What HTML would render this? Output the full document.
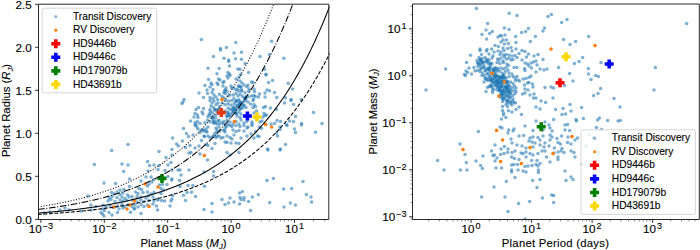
<!DOCTYPE html><html><head><meta charset="utf-8"><style>html,body{margin:0;padding:0;background:#fff;}svg{display:block;}</style></head><body><svg width="700" height="250" viewBox="0 0 700 250" font-family='"Liberation Sans", sans-serif'><style>text{stroke:#000;stroke-width:0.12px;paint-order:stroke;}</style>
<rect width="700" height="250" fill="#fff"/>
<defs><clipPath id="cl"><rect x="38.5" y="4.5" width="291" height="215"/></clipPath><clipPath id="cr"><rect x="412.5" y="4.5" width="287" height="215"/></clipPath></defs>
<g clip-path="url(#cl)">
<circle cx="201.4" cy="39.6" r="1.75" fill="#1f77b4" fill-opacity="0.58"/>
<circle cx="220.4" cy="48.4" r="1.75" fill="#1f77b4" fill-opacity="0.58"/>
<circle cx="226.4" cy="47.6" r="1.75" fill="#1f77b4" fill-opacity="0.58"/>
<circle cx="235.8" cy="42.6" r="1.75" fill="#1f77b4" fill-opacity="0.58"/>
<circle cx="271.6" cy="41.2" r="1.75" fill="#1f77b4" fill-opacity="0.58"/>
<circle cx="189.0" cy="153.0" r="1.75" fill="#1f77b4" fill-opacity="0.58"/>
<circle cx="191.0" cy="152.4" r="1.75" fill="#1f77b4" fill-opacity="0.58"/>
<circle cx="200.0" cy="154.0" r="1.75" fill="#1f77b4" fill-opacity="0.58"/>
<circle cx="207.6" cy="160.0" r="1.75" fill="#1f77b4" fill-opacity="0.58"/>
<circle cx="227.0" cy="152.4" r="1.75" fill="#1f77b4" fill-opacity="0.58"/>
<circle cx="230.0" cy="155.0" r="1.75" fill="#1f77b4" fill-opacity="0.58"/>
<circle cx="239.0" cy="152.4" r="1.75" fill="#1f77b4" fill-opacity="0.58"/>
<circle cx="268.0" cy="150.0" r="1.75" fill="#1f77b4" fill-opacity="0.58"/>
<circle cx="280.0" cy="150.0" r="1.75" fill="#1f77b4" fill-opacity="0.58"/>
<circle cx="189.0" cy="170.0" r="1.75" fill="#1f77b4" fill-opacity="0.58"/>
<circle cx="180.0" cy="170.0" r="1.75" fill="#1f77b4" fill-opacity="0.58"/>
<circle cx="181.0" cy="175.0" r="1.75" fill="#1f77b4" fill-opacity="0.58"/>
<circle cx="204.0" cy="172.0" r="1.75" fill="#1f77b4" fill-opacity="0.58"/>
<circle cx="213.6" cy="171.6" r="1.75" fill="#1f77b4" fill-opacity="0.58"/>
<circle cx="213.6" cy="176.0" r="1.75" fill="#1f77b4" fill-opacity="0.58"/>
<circle cx="267.0" cy="180.4" r="1.75" fill="#1f77b4" fill-opacity="0.58"/>
<circle cx="273.4" cy="178.6" r="1.75" fill="#1f77b4" fill-opacity="0.58"/>
<circle cx="303.0" cy="181.6" r="1.75" fill="#1f77b4" fill-opacity="0.58"/>
<circle cx="283.6" cy="189.0" r="1.75" fill="#1f77b4" fill-opacity="0.58"/>
<circle cx="291.6" cy="188.4" r="1.75" fill="#1f77b4" fill-opacity="0.58"/>
<circle cx="239.6" cy="193.0" r="1.75" fill="#1f77b4" fill-opacity="0.58"/>
<circle cx="242.4" cy="191.4" r="1.75" fill="#1f77b4" fill-opacity="0.58"/>
<circle cx="258.4" cy="194.4" r="1.75" fill="#1f77b4" fill-opacity="0.58"/>
<circle cx="306.4" cy="194.4" r="1.75" fill="#1f77b4" fill-opacity="0.58"/>
<circle cx="311.0" cy="197.0" r="1.75" fill="#1f77b4" fill-opacity="0.58"/>
<circle cx="240.0" cy="197.6" r="1.75" fill="#1f77b4" fill-opacity="0.58"/>
<circle cx="244.0" cy="197.6" r="1.75" fill="#1f77b4" fill-opacity="0.58"/>
<circle cx="252.4" cy="197.0" r="1.75" fill="#1f77b4" fill-opacity="0.58"/>
<circle cx="230.0" cy="198.0" r="1.75" fill="#1f77b4" fill-opacity="0.58"/>
<circle cx="241.0" cy="199.6" r="1.75" fill="#1f77b4" fill-opacity="0.58"/>
<circle cx="225.0" cy="204.4" r="1.75" fill="#1f77b4" fill-opacity="0.58"/>
<circle cx="228.6" cy="203.0" r="1.75" fill="#1f77b4" fill-opacity="0.58"/>
<circle cx="234.0" cy="202.0" r="1.75" fill="#1f77b4" fill-opacity="0.58"/>
<circle cx="239.6" cy="204.0" r="1.75" fill="#1f77b4" fill-opacity="0.58"/>
<circle cx="244.0" cy="200.0" r="1.75" fill="#1f77b4" fill-opacity="0.58"/>
<circle cx="248.6" cy="201.4" r="1.75" fill="#1f77b4" fill-opacity="0.58"/>
<circle cx="269.6" cy="202.4" r="1.75" fill="#1f77b4" fill-opacity="0.58"/>
<circle cx="290.4" cy="203.0" r="1.75" fill="#1f77b4" fill-opacity="0.58"/>
<circle cx="295.4" cy="205.0" r="1.75" fill="#1f77b4" fill-opacity="0.58"/>
<circle cx="311.6" cy="202.0" r="1.75" fill="#1f77b4" fill-opacity="0.58"/>
<circle cx="204.0" cy="209.6" r="1.75" fill="#1f77b4" fill-opacity="0.58"/>
<circle cx="212.0" cy="212.0" r="1.75" fill="#1f77b4" fill-opacity="0.58"/>
<circle cx="250.6" cy="210.6" r="1.75" fill="#1f77b4" fill-opacity="0.58"/>
<circle cx="284.0" cy="207.0" r="1.75" fill="#1f77b4" fill-opacity="0.58"/>
<circle cx="111.6" cy="150.4" r="1.75" fill="#1f77b4" fill-opacity="0.58"/>
<circle cx="159.0" cy="151.6" r="1.75" fill="#1f77b4" fill-opacity="0.58"/>
<circle cx="166.0" cy="157.6" r="1.75" fill="#1f77b4" fill-opacity="0.58"/>
<circle cx="172.0" cy="155.0" r="1.75" fill="#1f77b4" fill-opacity="0.58"/>
<circle cx="94.4" cy="164.4" r="1.75" fill="#1f77b4" fill-opacity="0.58"/>
<circle cx="122.0" cy="164.0" r="1.75" fill="#1f77b4" fill-opacity="0.58"/>
<circle cx="128.0" cy="165.0" r="1.75" fill="#1f77b4" fill-opacity="0.58"/>
<circle cx="147.6" cy="161.6" r="1.75" fill="#1f77b4" fill-opacity="0.58"/>
<circle cx="149.6" cy="165.6" r="1.75" fill="#1f77b4" fill-opacity="0.58"/>
<circle cx="154.0" cy="165.0" r="1.75" fill="#1f77b4" fill-opacity="0.58"/>
<circle cx="159.0" cy="165.6" r="1.75" fill="#1f77b4" fill-opacity="0.58"/>
<circle cx="168.0" cy="165.0" r="1.75" fill="#1f77b4" fill-opacity="0.58"/>
<circle cx="171.0" cy="162.4" r="1.75" fill="#1f77b4" fill-opacity="0.58"/>
<circle cx="123.6" cy="171.6" r="1.75" fill="#1f77b4" fill-opacity="0.58"/>
<circle cx="148.0" cy="171.0" r="1.75" fill="#1f77b4" fill-opacity="0.58"/>
<circle cx="158.0" cy="169.6" r="1.75" fill="#1f77b4" fill-opacity="0.58"/>
<circle cx="165.0" cy="170.4" r="1.75" fill="#1f77b4" fill-opacity="0.58"/>
<circle cx="172.0" cy="170.0" r="1.75" fill="#1f77b4" fill-opacity="0.58"/>
<circle cx="178.0" cy="170.0" r="1.75" fill="#1f77b4" fill-opacity="0.58"/>
<circle cx="104.0" cy="183.0" r="1.75" fill="#1f77b4" fill-opacity="0.58"/>
<circle cx="115.6" cy="183.6" r="1.75" fill="#1f77b4" fill-opacity="0.58"/>
<circle cx="129.6" cy="179.0" r="1.75" fill="#1f77b4" fill-opacity="0.58"/>
<circle cx="141.0" cy="181.0" r="1.75" fill="#1f77b4" fill-opacity="0.58"/>
<circle cx="146.0" cy="177.0" r="1.75" fill="#1f77b4" fill-opacity="0.58"/>
<circle cx="151.0" cy="177.0" r="1.75" fill="#1f77b4" fill-opacity="0.58"/>
<circle cx="154.0" cy="179.6" r="1.75" fill="#1f77b4" fill-opacity="0.58"/>
<circle cx="168.0" cy="176.4" r="1.75" fill="#1f77b4" fill-opacity="0.58"/>
<circle cx="172.0" cy="179.0" r="1.75" fill="#1f77b4" fill-opacity="0.58"/>
<circle cx="152.0" cy="182.0" r="1.75" fill="#1f77b4" fill-opacity="0.58"/>
<circle cx="149.0" cy="184.0" r="1.75" fill="#1f77b4" fill-opacity="0.58"/>
<circle cx="170.0" cy="206.0" r="1.75" fill="#1f77b4" fill-opacity="0.58"/>
<circle cx="60.0" cy="210.0" r="1.75" fill="#1f77b4" fill-opacity="0.58"/>
<circle cx="65.0" cy="208.0" r="1.75" fill="#1f77b4" fill-opacity="0.58"/>
<circle cx="69.0" cy="210.0" r="1.75" fill="#1f77b4" fill-opacity="0.58"/>
<circle cx="81.0" cy="211.0" r="1.75" fill="#1f77b4" fill-opacity="0.58"/>
<circle cx="88.0" cy="196.0" r="1.75" fill="#1f77b4" fill-opacity="0.58"/>
<circle cx="44.0" cy="213.0" r="1.75" fill="#1f77b4" fill-opacity="0.58"/>
<circle cx="50.0" cy="212.0" r="1.75" fill="#1f77b4" fill-opacity="0.58"/>
<circle cx="172.6" cy="138.0" r="1.75" fill="#1f77b4" fill-opacity="0.58"/>
<circle cx="176.6" cy="144.0" r="1.75" fill="#1f77b4" fill-opacity="0.58"/>
<circle cx="178.4" cy="146.0" r="1.75" fill="#1f77b4" fill-opacity="0.58"/>
<circle cx="128.0" cy="144.4" r="1.75" fill="#1f77b4" fill-opacity="0.58"/>
<circle cx="172.0" cy="149.6" r="1.75" fill="#1f77b4" fill-opacity="0.58"/>
<circle cx="322.0" cy="123.6" r="1.75" fill="#1f77b4" fill-opacity="0.58"/>
<circle cx="183.0" cy="102.0" r="1.75" fill="#1f77b4" fill-opacity="0.58"/>
<circle cx="182.0" cy="103.5" r="1.75" fill="#1f77b4" fill-opacity="0.58"/>
<circle cx="210.0" cy="100.5" r="1.75" fill="#1f77b4" fill-opacity="0.58"/>
<circle cx="214.0" cy="101.0" r="1.75" fill="#1f77b4" fill-opacity="0.58"/>
<circle cx="212.0" cy="103.0" r="1.75" fill="#1f77b4" fill-opacity="0.58"/>
<circle cx="216.0" cy="104.5" r="1.75" fill="#1f77b4" fill-opacity="0.58"/>
<circle cx="218.0" cy="103.0" r="1.75" fill="#1f77b4" fill-opacity="0.58"/>
<circle cx="226.0" cy="100.5" r="1.75" fill="#1f77b4" fill-opacity="0.58"/>
<circle cx="229.0" cy="101.0" r="1.75" fill="#1f77b4" fill-opacity="0.58"/>
<circle cx="232.0" cy="100.5" r="1.75" fill="#1f77b4" fill-opacity="0.58"/>
<circle cx="235.5" cy="102.0" r="1.75" fill="#1f77b4" fill-opacity="0.58"/>
<circle cx="239.0" cy="101.0" r="1.75" fill="#1f77b4" fill-opacity="0.58"/>
<circle cx="242.0" cy="102.5" r="1.75" fill="#1f77b4" fill-opacity="0.58"/>
<circle cx="245.0" cy="101.0" r="1.75" fill="#1f77b4" fill-opacity="0.58"/>
<circle cx="248.0" cy="102.0" r="1.75" fill="#1f77b4" fill-opacity="0.58"/>
<circle cx="222.0" cy="103.0" r="1.75" fill="#1f77b4" fill-opacity="0.58"/>
<circle cx="225.0" cy="104.5" r="1.75" fill="#1f77b4" fill-opacity="0.58"/>
<circle cx="228.0" cy="104.0" r="1.75" fill="#1f77b4" fill-opacity="0.58"/>
<circle cx="231.0" cy="105.0" r="1.75" fill="#1f77b4" fill-opacity="0.58"/>
<circle cx="234.0" cy="104.0" r="1.75" fill="#1f77b4" fill-opacity="0.58"/>
<circle cx="237.0" cy="105.5" r="1.75" fill="#1f77b4" fill-opacity="0.58"/>
<circle cx="240.0" cy="104.0" r="1.75" fill="#1f77b4" fill-opacity="0.58"/>
<circle cx="244.0" cy="105.0" r="1.75" fill="#1f77b4" fill-opacity="0.58"/>
<circle cx="211.0" cy="106.0" r="1.75" fill="#1f77b4" fill-opacity="0.58"/>
<circle cx="213.5" cy="107.5" r="1.75" fill="#1f77b4" fill-opacity="0.58"/>
<circle cx="210.0" cy="109.5" r="1.75" fill="#1f77b4" fill-opacity="0.58"/>
<circle cx="214.5" cy="110.0" r="1.75" fill="#1f77b4" fill-opacity="0.58"/>
<circle cx="198.5" cy="107.5" r="1.75" fill="#1f77b4" fill-opacity="0.58"/>
<circle cx="196.0" cy="109.5" r="1.75" fill="#1f77b4" fill-opacity="0.58"/>
<circle cx="203.5" cy="108.5" r="1.75" fill="#1f77b4" fill-opacity="0.58"/>
<circle cx="228.0" cy="108.0" r="1.75" fill="#1f77b4" fill-opacity="0.58"/>
<circle cx="230.0" cy="109.5" r="1.75" fill="#1f77b4" fill-opacity="0.58"/>
<circle cx="233.0" cy="107.5" r="1.75" fill="#1f77b4" fill-opacity="0.58"/>
<circle cx="235.5" cy="109.0" r="1.75" fill="#1f77b4" fill-opacity="0.58"/>
<circle cx="238.0" cy="107.0" r="1.75" fill="#1f77b4" fill-opacity="0.58"/>
<circle cx="240.0" cy="109.5" r="1.75" fill="#1f77b4" fill-opacity="0.58"/>
<circle cx="242.5" cy="108.0" r="1.75" fill="#1f77b4" fill-opacity="0.58"/>
<circle cx="246.0" cy="107.5" r="1.75" fill="#1f77b4" fill-opacity="0.58"/>
<circle cx="202.0" cy="112.0" r="1.75" fill="#1f77b4" fill-opacity="0.58"/>
<circle cx="203.0" cy="114.0" r="1.75" fill="#1f77b4" fill-opacity="0.58"/>
<circle cx="195.0" cy="113.5" r="1.75" fill="#1f77b4" fill-opacity="0.58"/>
<circle cx="197.5" cy="115.0" r="1.75" fill="#1f77b4" fill-opacity="0.58"/>
<circle cx="194.0" cy="117.0" r="1.75" fill="#1f77b4" fill-opacity="0.58"/>
<circle cx="198.0" cy="117.5" r="1.75" fill="#1f77b4" fill-opacity="0.58"/>
<circle cx="210.0" cy="115.0" r="1.75" fill="#1f77b4" fill-opacity="0.58"/>
<circle cx="213.0" cy="116.5" r="1.75" fill="#1f77b4" fill-opacity="0.58"/>
<circle cx="216.0" cy="115.0" r="1.75" fill="#1f77b4" fill-opacity="0.58"/>
<circle cx="215.5" cy="118.0" r="1.75" fill="#1f77b4" fill-opacity="0.58"/>
<circle cx="228.0" cy="112.5" r="1.75" fill="#1f77b4" fill-opacity="0.58"/>
<circle cx="231.0" cy="114.0" r="1.75" fill="#1f77b4" fill-opacity="0.58"/>
<circle cx="227.0" cy="116.0" r="1.75" fill="#1f77b4" fill-opacity="0.58"/>
<circle cx="233.0" cy="111.5" r="1.75" fill="#1f77b4" fill-opacity="0.58"/>
<circle cx="236.0" cy="113.0" r="1.75" fill="#1f77b4" fill-opacity="0.58"/>
<circle cx="239.0" cy="112.0" r="1.75" fill="#1f77b4" fill-opacity="0.58"/>
<circle cx="241.0" cy="114.0" r="1.75" fill="#1f77b4" fill-opacity="0.58"/>
<circle cx="230.0" cy="117.0" r="1.75" fill="#1f77b4" fill-opacity="0.58"/>
<circle cx="237.0" cy="116.0" r="1.75" fill="#1f77b4" fill-opacity="0.58"/>
<circle cx="240.0" cy="117.5" r="1.75" fill="#1f77b4" fill-opacity="0.58"/>
<circle cx="190.5" cy="121.0" r="1.75" fill="#1f77b4" fill-opacity="0.58"/>
<circle cx="195.0" cy="122.5" r="1.75" fill="#1f77b4" fill-opacity="0.58"/>
<circle cx="197.5" cy="121.5" r="1.75" fill="#1f77b4" fill-opacity="0.58"/>
<circle cx="196.0" cy="124.5" r="1.75" fill="#1f77b4" fill-opacity="0.58"/>
<circle cx="200.0" cy="123.5" r="1.75" fill="#1f77b4" fill-opacity="0.58"/>
<circle cx="207.5" cy="120.0" r="1.75" fill="#1f77b4" fill-opacity="0.58"/>
<circle cx="210.0" cy="122.0" r="1.75" fill="#1f77b4" fill-opacity="0.58"/>
<circle cx="213.0" cy="120.0" r="1.75" fill="#1f77b4" fill-opacity="0.58"/>
<circle cx="215.5" cy="123.0" r="1.75" fill="#1f77b4" fill-opacity="0.58"/>
<circle cx="218.0" cy="121.0" r="1.75" fill="#1f77b4" fill-opacity="0.58"/>
<circle cx="219.5" cy="124.0" r="1.75" fill="#1f77b4" fill-opacity="0.58"/>
<circle cx="224.0" cy="121.5" r="1.75" fill="#1f77b4" fill-opacity="0.58"/>
<circle cx="227.0" cy="120.0" r="1.75" fill="#1f77b4" fill-opacity="0.58"/>
<circle cx="230.0" cy="122.0" r="1.75" fill="#1f77b4" fill-opacity="0.58"/>
<circle cx="228.0" cy="124.5" r="1.75" fill="#1f77b4" fill-opacity="0.58"/>
<circle cx="233.0" cy="124.0" r="1.75" fill="#1f77b4" fill-opacity="0.58"/>
<circle cx="236.0" cy="121.5" r="1.75" fill="#1f77b4" fill-opacity="0.58"/>
<circle cx="239.0" cy="124.0" r="1.75" fill="#1f77b4" fill-opacity="0.58"/>
<circle cx="241.0" cy="120.0" r="1.75" fill="#1f77b4" fill-opacity="0.58"/>
<circle cx="244.0" cy="123.0" r="1.75" fill="#1f77b4" fill-opacity="0.58"/>
<circle cx="247.0" cy="121.5" r="1.75" fill="#1f77b4" fill-opacity="0.58"/>
<circle cx="244.0" cy="106.0" r="1.75" fill="#1f77b4" fill-opacity="0.58"/>
<circle cx="183.5" cy="128.5" r="1.75" fill="#1f77b4" fill-opacity="0.58"/>
<circle cx="186.5" cy="133.5" r="1.75" fill="#1f77b4" fill-opacity="0.58"/>
<circle cx="188.5" cy="136.5" r="1.75" fill="#1f77b4" fill-opacity="0.58"/>
<circle cx="182.5" cy="141.0" r="1.75" fill="#1f77b4" fill-opacity="0.58"/>
<circle cx="185.5" cy="147.5" r="1.75" fill="#1f77b4" fill-opacity="0.58"/>
<circle cx="190.0" cy="145.5" r="1.75" fill="#1f77b4" fill-opacity="0.58"/>
<circle cx="193.0" cy="135.0" r="1.75" fill="#1f77b4" fill-opacity="0.58"/>
<circle cx="195.0" cy="125.5" r="1.75" fill="#1f77b4" fill-opacity="0.58"/>
<circle cx="197.0" cy="127.0" r="1.75" fill="#1f77b4" fill-opacity="0.58"/>
<circle cx="198.0" cy="129.0" r="1.75" fill="#1f77b4" fill-opacity="0.58"/>
<circle cx="200.0" cy="132.5" r="1.75" fill="#1f77b4" fill-opacity="0.58"/>
<circle cx="201.5" cy="140.5" r="1.75" fill="#1f77b4" fill-opacity="0.58"/>
<circle cx="199.0" cy="146.0" r="1.75" fill="#1f77b4" fill-opacity="0.58"/>
<circle cx="195.0" cy="148.0" r="1.75" fill="#1f77b4" fill-opacity="0.58"/>
<circle cx="203.5" cy="130.0" r="1.75" fill="#1f77b4" fill-opacity="0.58"/>
<circle cx="206.0" cy="129.0" r="1.75" fill="#1f77b4" fill-opacity="0.58"/>
<circle cx="208.0" cy="127.0" r="1.75" fill="#1f77b4" fill-opacity="0.58"/>
<circle cx="207.0" cy="132.0" r="1.75" fill="#1f77b4" fill-opacity="0.58"/>
<circle cx="208.0" cy="136.0" r="1.75" fill="#1f77b4" fill-opacity="0.58"/>
<circle cx="210.0" cy="137.5" r="1.75" fill="#1f77b4" fill-opacity="0.58"/>
<circle cx="213.0" cy="136.5" r="1.75" fill="#1f77b4" fill-opacity="0.58"/>
<circle cx="214.5" cy="133.5" r="1.75" fill="#1f77b4" fill-opacity="0.58"/>
<circle cx="216.0" cy="128.0" r="1.75" fill="#1f77b4" fill-opacity="0.58"/>
<circle cx="217.0" cy="130.0" r="1.75" fill="#1f77b4" fill-opacity="0.58"/>
<circle cx="219.0" cy="127.0" r="1.75" fill="#1f77b4" fill-opacity="0.58"/>
<circle cx="220.0" cy="131.0" r="1.75" fill="#1f77b4" fill-opacity="0.58"/>
<circle cx="216.0" cy="137.5" r="1.75" fill="#1f77b4" fill-opacity="0.58"/>
<circle cx="219.0" cy="136.0" r="1.75" fill="#1f77b4" fill-opacity="0.58"/>
<circle cx="221.0" cy="138.0" r="1.75" fill="#1f77b4" fill-opacity="0.58"/>
<circle cx="223.0" cy="137.5" r="1.75" fill="#1f77b4" fill-opacity="0.58"/>
<circle cx="208.0" cy="145.5" r="1.75" fill="#1f77b4" fill-opacity="0.58"/>
<circle cx="206.0" cy="144.5" r="1.75" fill="#1f77b4" fill-opacity="0.58"/>
<circle cx="215.0" cy="143.5" r="1.75" fill="#1f77b4" fill-opacity="0.58"/>
<circle cx="212.0" cy="148.5" r="1.75" fill="#1f77b4" fill-opacity="0.58"/>
<circle cx="226.0" cy="126.0" r="1.75" fill="#1f77b4" fill-opacity="0.58"/>
<circle cx="230.0" cy="125.5" r="1.75" fill="#1f77b4" fill-opacity="0.58"/>
<circle cx="232.0" cy="126.5" r="1.75" fill="#1f77b4" fill-opacity="0.58"/>
<circle cx="236.0" cy="125.5" r="1.75" fill="#1f77b4" fill-opacity="0.58"/>
<circle cx="240.0" cy="126.5" r="1.75" fill="#1f77b4" fill-opacity="0.58"/>
<circle cx="244.0" cy="125.5" r="1.75" fill="#1f77b4" fill-opacity="0.58"/>
<circle cx="248.0" cy="127.0" r="1.75" fill="#1f77b4" fill-opacity="0.58"/>
<circle cx="225.0" cy="132.0" r="1.75" fill="#1f77b4" fill-opacity="0.58"/>
<circle cx="233.0" cy="130.0" r="1.75" fill="#1f77b4" fill-opacity="0.58"/>
<circle cx="236.0" cy="131.5" r="1.75" fill="#1f77b4" fill-opacity="0.58"/>
<circle cx="239.0" cy="130.5" r="1.75" fill="#1f77b4" fill-opacity="0.58"/>
<circle cx="244.0" cy="131.0" r="1.75" fill="#1f77b4" fill-opacity="0.58"/>
<circle cx="247.0" cy="128.0" r="1.75" fill="#1f77b4" fill-opacity="0.58"/>
<circle cx="227.0" cy="136.0" r="1.75" fill="#1f77b4" fill-opacity="0.58"/>
<circle cx="230.0" cy="137.5" r="1.75" fill="#1f77b4" fill-opacity="0.58"/>
<circle cx="232.0" cy="139.0" r="1.75" fill="#1f77b4" fill-opacity="0.58"/>
<circle cx="234.0" cy="135.0" r="1.75" fill="#1f77b4" fill-opacity="0.58"/>
<circle cx="241.0" cy="138.0" r="1.75" fill="#1f77b4" fill-opacity="0.58"/>
<circle cx="247.0" cy="136.0" r="1.75" fill="#1f77b4" fill-opacity="0.58"/>
<circle cx="225.0" cy="142.0" r="1.75" fill="#1f77b4" fill-opacity="0.58"/>
<circle cx="227.0" cy="142.5" r="1.75" fill="#1f77b4" fill-opacity="0.58"/>
<circle cx="231.0" cy="143.0" r="1.75" fill="#1f77b4" fill-opacity="0.58"/>
<circle cx="236.0" cy="143.0" r="1.75" fill="#1f77b4" fill-opacity="0.58"/>
<circle cx="239.0" cy="143.5" r="1.75" fill="#1f77b4" fill-opacity="0.58"/>
<circle cx="208.5" cy="79.5" r="1.75" fill="#1f77b4" fill-opacity="0.58"/>
<circle cx="205.0" cy="85.5" r="1.75" fill="#1f77b4" fill-opacity="0.58"/>
<circle cx="199.0" cy="93.0" r="1.75" fill="#1f77b4" fill-opacity="0.58"/>
<circle cx="203.5" cy="97.5" r="1.75" fill="#1f77b4" fill-opacity="0.58"/>
<circle cx="184.0" cy="99.5" r="1.75" fill="#1f77b4" fill-opacity="0.58"/>
<circle cx="211.0" cy="83.0" r="1.75" fill="#1f77b4" fill-opacity="0.58"/>
<circle cx="212.0" cy="84.5" r="1.75" fill="#1f77b4" fill-opacity="0.58"/>
<circle cx="210.0" cy="87.0" r="1.75" fill="#1f77b4" fill-opacity="0.58"/>
<circle cx="213.0" cy="89.5" r="1.75" fill="#1f77b4" fill-opacity="0.58"/>
<circle cx="207.0" cy="90.0" r="1.75" fill="#1f77b4" fill-opacity="0.58"/>
<circle cx="207.5" cy="93.5" r="1.75" fill="#1f77b4" fill-opacity="0.58"/>
<circle cx="212.0" cy="92.5" r="1.75" fill="#1f77b4" fill-opacity="0.58"/>
<circle cx="214.0" cy="95.0" r="1.75" fill="#1f77b4" fill-opacity="0.58"/>
<circle cx="210.0" cy="97.5" r="1.75" fill="#1f77b4" fill-opacity="0.58"/>
<circle cx="213.0" cy="98.5" r="1.75" fill="#1f77b4" fill-opacity="0.58"/>
<circle cx="216.0" cy="97.0" r="1.75" fill="#1f77b4" fill-opacity="0.58"/>
<circle cx="217.0" cy="83.0" r="1.75" fill="#1f77b4" fill-opacity="0.58"/>
<circle cx="218.5" cy="79.0" r="1.75" fill="#1f77b4" fill-opacity="0.58"/>
<circle cx="220.0" cy="80.0" r="1.75" fill="#1f77b4" fill-opacity="0.58"/>
<circle cx="218.0" cy="84.5" r="1.75" fill="#1f77b4" fill-opacity="0.58"/>
<circle cx="223.0" cy="86.0" r="1.75" fill="#1f77b4" fill-opacity="0.58"/>
<circle cx="224.0" cy="81.5" r="1.75" fill="#1f77b4" fill-opacity="0.58"/>
<circle cx="223.0" cy="82.5" r="1.75" fill="#1f77b4" fill-opacity="0.58"/>
<circle cx="226.0" cy="88.0" r="1.75" fill="#1f77b4" fill-opacity="0.58"/>
<circle cx="225.5" cy="90.0" r="1.75" fill="#1f77b4" fill-opacity="0.58"/>
<circle cx="227.0" cy="91.5" r="1.75" fill="#1f77b4" fill-opacity="0.58"/>
<circle cx="225.0" cy="93.5" r="1.75" fill="#1f77b4" fill-opacity="0.58"/>
<circle cx="222.0" cy="96.5" r="1.75" fill="#1f77b4" fill-opacity="0.58"/>
<circle cx="224.0" cy="98.0" r="1.75" fill="#1f77b4" fill-opacity="0.58"/>
<circle cx="227.0" cy="76.0" r="1.75" fill="#1f77b4" fill-opacity="0.58"/>
<circle cx="230.0" cy="75.5" r="1.75" fill="#1f77b4" fill-opacity="0.58"/>
<circle cx="228.0" cy="78.0" r="1.75" fill="#1f77b4" fill-opacity="0.58"/>
<circle cx="231.0" cy="86.0" r="1.75" fill="#1f77b4" fill-opacity="0.58"/>
<circle cx="234.0" cy="88.0" r="1.75" fill="#1f77b4" fill-opacity="0.58"/>
<circle cx="230.0" cy="95.0" r="1.75" fill="#1f77b4" fill-opacity="0.58"/>
<circle cx="228.0" cy="96.0" r="1.75" fill="#1f77b4" fill-opacity="0.58"/>
<circle cx="236.0" cy="79.0" r="1.75" fill="#1f77b4" fill-opacity="0.58"/>
<circle cx="239.0" cy="77.0" r="1.75" fill="#1f77b4" fill-opacity="0.58"/>
<circle cx="240.0" cy="81.0" r="1.75" fill="#1f77b4" fill-opacity="0.58"/>
<circle cx="242.0" cy="83.0" r="1.75" fill="#1f77b4" fill-opacity="0.58"/>
<circle cx="244.0" cy="85.0" r="1.75" fill="#1f77b4" fill-opacity="0.58"/>
<circle cx="239.0" cy="86.0" r="1.75" fill="#1f77b4" fill-opacity="0.58"/>
<circle cx="241.0" cy="87.0" r="1.75" fill="#1f77b4" fill-opacity="0.58"/>
<circle cx="236.0" cy="90.0" r="1.75" fill="#1f77b4" fill-opacity="0.58"/>
<circle cx="239.0" cy="91.0" r="1.75" fill="#1f77b4" fill-opacity="0.58"/>
<circle cx="236.0" cy="93.5" r="1.75" fill="#1f77b4" fill-opacity="0.58"/>
<circle cx="238.0" cy="96.0" r="1.75" fill="#1f77b4" fill-opacity="0.58"/>
<circle cx="234.0" cy="98.5" r="1.75" fill="#1f77b4" fill-opacity="0.58"/>
<circle cx="248.0" cy="85.0" r="1.75" fill="#1f77b4" fill-opacity="0.58"/>
<circle cx="249.0" cy="89.0" r="1.75" fill="#1f77b4" fill-opacity="0.58"/>
<circle cx="246.0" cy="97.0" r="1.75" fill="#1f77b4" fill-opacity="0.58"/>
<circle cx="220.5" cy="50.0" r="1.75" fill="#1f77b4" fill-opacity="0.58"/>
<circle cx="234.0" cy="53.0" r="1.75" fill="#1f77b4" fill-opacity="0.58"/>
<circle cx="241.5" cy="52.2" r="1.75" fill="#1f77b4" fill-opacity="0.58"/>
<circle cx="213.5" cy="56.5" r="1.75" fill="#1f77b4" fill-opacity="0.58"/>
<circle cx="224.0" cy="58.2" r="1.75" fill="#1f77b4" fill-opacity="0.58"/>
<circle cx="228.7" cy="60.0" r="1.75" fill="#1f77b4" fill-opacity="0.58"/>
<circle cx="228.7" cy="61.5" r="1.75" fill="#1f77b4" fill-opacity="0.58"/>
<circle cx="235.5" cy="58.8" r="1.75" fill="#1f77b4" fill-opacity="0.58"/>
<circle cx="241.5" cy="59.2" r="1.75" fill="#1f77b4" fill-opacity="0.58"/>
<circle cx="245.0" cy="63.5" r="1.75" fill="#1f77b4" fill-opacity="0.58"/>
<circle cx="229.5" cy="66.0" r="1.75" fill="#1f77b4" fill-opacity="0.58"/>
<circle cx="208.0" cy="68.2" r="1.75" fill="#1f77b4" fill-opacity="0.58"/>
<circle cx="219.2" cy="68.5" r="1.75" fill="#1f77b4" fill-opacity="0.58"/>
<circle cx="237.8" cy="69.0" r="1.75" fill="#1f77b4" fill-opacity="0.58"/>
<circle cx="240.0" cy="69.2" r="1.75" fill="#1f77b4" fill-opacity="0.58"/>
<circle cx="248.5" cy="72.5" r="1.75" fill="#1f77b4" fill-opacity="0.58"/>
<circle cx="217.0" cy="73.8" r="1.75" fill="#1f77b4" fill-opacity="0.58"/>
<circle cx="228.0" cy="72.5" r="1.75" fill="#1f77b4" fill-opacity="0.58"/>
<circle cx="229.5" cy="74.0" r="1.75" fill="#1f77b4" fill-opacity="0.58"/>
<circle cx="240.8" cy="74.2" r="1.75" fill="#1f77b4" fill-opacity="0.58"/>
<circle cx="260.0" cy="56.5" r="1.75" fill="#1f77b4" fill-opacity="0.58"/>
<circle cx="269.5" cy="54.5" r="1.75" fill="#1f77b4" fill-opacity="0.58"/>
<circle cx="283.8" cy="58.2" r="1.75" fill="#1f77b4" fill-opacity="0.58"/>
<circle cx="264.5" cy="69.2" r="1.75" fill="#1f77b4" fill-opacity="0.58"/>
<circle cx="266.0" cy="74.2" r="1.75" fill="#1f77b4" fill-opacity="0.58"/>
<circle cx="266.0" cy="75.0" r="1.75" fill="#1f77b4" fill-opacity="0.58"/>
<circle cx="251.5" cy="82.0" r="1.75" fill="#1f77b4" fill-opacity="0.58"/>
<circle cx="253.0" cy="82.5" r="1.75" fill="#1f77b4" fill-opacity="0.58"/>
<circle cx="268.5" cy="82.5" r="1.75" fill="#1f77b4" fill-opacity="0.58"/>
<circle cx="272.5" cy="80.5" r="1.75" fill="#1f77b4" fill-opacity="0.58"/>
<circle cx="288.2" cy="83.2" r="1.75" fill="#1f77b4" fill-opacity="0.58"/>
<circle cx="254.0" cy="89.0" r="1.75" fill="#1f77b4" fill-opacity="0.58"/>
<circle cx="254.5" cy="91.5" r="1.75" fill="#1f77b4" fill-opacity="0.58"/>
<circle cx="267.0" cy="90.0" r="1.75" fill="#1f77b4" fill-opacity="0.58"/>
<circle cx="269.5" cy="90.8" r="1.75" fill="#1f77b4" fill-opacity="0.58"/>
<circle cx="265.0" cy="93.0" r="1.75" fill="#1f77b4" fill-opacity="0.58"/>
<circle cx="274.5" cy="92.5" r="1.75" fill="#1f77b4" fill-opacity="0.58"/>
<circle cx="292.5" cy="89.0" r="1.75" fill="#1f77b4" fill-opacity="0.58"/>
<circle cx="259.5" cy="94.0" r="1.75" fill="#1f77b4" fill-opacity="0.58"/>
<circle cx="251.5" cy="96.0" r="1.75" fill="#1f77b4" fill-opacity="0.58"/>
<circle cx="254.0" cy="95.5" r="1.75" fill="#1f77b4" fill-opacity="0.58"/>
<circle cx="255.5" cy="96.5" r="1.75" fill="#1f77b4" fill-opacity="0.58"/>
<circle cx="258.5" cy="97.0" r="1.75" fill="#1f77b4" fill-opacity="0.58"/>
<circle cx="253.5" cy="99.0" r="1.75" fill="#1f77b4" fill-opacity="0.58"/>
<circle cx="265.0" cy="97.0" r="1.75" fill="#1f77b4" fill-opacity="0.58"/>
<circle cx="276.8" cy="97.5" r="1.75" fill="#1f77b4" fill-opacity="0.58"/>
<circle cx="285.5" cy="97.8" r="1.75" fill="#1f77b4" fill-opacity="0.58"/>
<circle cx="291.0" cy="99.5" r="1.75" fill="#1f77b4" fill-opacity="0.58"/>
<circle cx="301.2" cy="99.5" r="1.75" fill="#1f77b4" fill-opacity="0.58"/>
<circle cx="253.0" cy="100.5" r="1.75" fill="#1f77b4" fill-opacity="0.58"/>
<circle cx="254.0" cy="104.5" r="1.75" fill="#1f77b4" fill-opacity="0.58"/>
<circle cx="253.0" cy="107.5" r="1.75" fill="#1f77b4" fill-opacity="0.58"/>
<circle cx="255.5" cy="106.5" r="1.75" fill="#1f77b4" fill-opacity="0.58"/>
<circle cx="250.5" cy="104.0" r="1.75" fill="#1f77b4" fill-opacity="0.58"/>
<circle cx="256.5" cy="111.0" r="1.75" fill="#1f77b4" fill-opacity="0.58"/>
<circle cx="254.0" cy="113.0" r="1.75" fill="#1f77b4" fill-opacity="0.58"/>
<circle cx="263.5" cy="107.5" r="1.75" fill="#1f77b4" fill-opacity="0.58"/>
<circle cx="265.5" cy="106.5" r="1.75" fill="#1f77b4" fill-opacity="0.58"/>
<circle cx="270.5" cy="108.0" r="1.75" fill="#1f77b4" fill-opacity="0.58"/>
<circle cx="276.5" cy="109.5" r="1.75" fill="#1f77b4" fill-opacity="0.58"/>
<circle cx="284.5" cy="103.0" r="1.75" fill="#1f77b4" fill-opacity="0.58"/>
<circle cx="291.0" cy="100.5" r="1.75" fill="#1f77b4" fill-opacity="0.58"/>
<circle cx="293.5" cy="104.5" r="1.75" fill="#1f77b4" fill-opacity="0.58"/>
<circle cx="264.0" cy="113.5" r="1.75" fill="#1f77b4" fill-opacity="0.58"/>
<circle cx="265.0" cy="115.5" r="1.75" fill="#1f77b4" fill-opacity="0.58"/>
<circle cx="266.5" cy="115.0" r="1.75" fill="#1f77b4" fill-opacity="0.58"/>
<circle cx="263.0" cy="117.0" r="1.75" fill="#1f77b4" fill-opacity="0.58"/>
<circle cx="262.0" cy="121.0" r="1.75" fill="#1f77b4" fill-opacity="0.58"/>
<circle cx="260.0" cy="122.0" r="1.75" fill="#1f77b4" fill-opacity="0.58"/>
<circle cx="252.0" cy="122.0" r="1.75" fill="#1f77b4" fill-opacity="0.58"/>
<circle cx="252.0" cy="124.0" r="1.75" fill="#1f77b4" fill-opacity="0.58"/>
<circle cx="277.0" cy="120.5" r="1.75" fill="#1f77b4" fill-opacity="0.58"/>
<circle cx="280.5" cy="121.5" r="1.75" fill="#1f77b4" fill-opacity="0.58"/>
<circle cx="271.0" cy="124.0" r="1.75" fill="#1f77b4" fill-opacity="0.58"/>
<circle cx="274.5" cy="123.5" r="1.75" fill="#1f77b4" fill-opacity="0.58"/>
<circle cx="289.5" cy="121.0" r="1.75" fill="#1f77b4" fill-opacity="0.58"/>
<circle cx="293.5" cy="121.5" r="1.75" fill="#1f77b4" fill-opacity="0.58"/>
<circle cx="295.5" cy="116.5" r="1.75" fill="#1f77b4" fill-opacity="0.58"/>
<circle cx="301.5" cy="123.5" r="1.75" fill="#1f77b4" fill-opacity="0.58"/>
<circle cx="313.5" cy="112.5" r="1.75" fill="#1f77b4" fill-opacity="0.58"/>
<circle cx="286.5" cy="124.5" r="1.75" fill="#1f77b4" fill-opacity="0.58"/>
<circle cx="252.0" cy="125.5" r="1.75" fill="#1f77b4" fill-opacity="0.58"/>
<circle cx="259.5" cy="127.0" r="1.75" fill="#1f77b4" fill-opacity="0.58"/>
<circle cx="261.5" cy="128.5" r="1.75" fill="#1f77b4" fill-opacity="0.58"/>
<circle cx="255.5" cy="131.5" r="1.75" fill="#1f77b4" fill-opacity="0.58"/>
<circle cx="257.5" cy="136.0" r="1.75" fill="#1f77b4" fill-opacity="0.58"/>
<circle cx="259.0" cy="136.5" r="1.75" fill="#1f77b4" fill-opacity="0.58"/>
<circle cx="254.0" cy="138.0" r="1.75" fill="#1f77b4" fill-opacity="0.58"/>
<circle cx="251.0" cy="134.0" r="1.75" fill="#1f77b4" fill-opacity="0.58"/>
<circle cx="280.0" cy="127.0" r="1.75" fill="#1f77b4" fill-opacity="0.58"/>
<circle cx="280.0" cy="129.5" r="1.75" fill="#1f77b4" fill-opacity="0.58"/>
<circle cx="276.5" cy="133.0" r="1.75" fill="#1f77b4" fill-opacity="0.58"/>
<circle cx="277.5" cy="136.0" r="1.75" fill="#1f77b4" fill-opacity="0.58"/>
<circle cx="287.0" cy="125.5" r="1.75" fill="#1f77b4" fill-opacity="0.58"/>
<circle cx="294.5" cy="129.0" r="1.75" fill="#1f77b4" fill-opacity="0.58"/>
<circle cx="295.5" cy="132.5" r="1.75" fill="#1f77b4" fill-opacity="0.58"/>
<circle cx="315.5" cy="132.2" r="1.75" fill="#1f77b4" fill-opacity="0.58"/>
<circle cx="301.5" cy="125.0" r="1.75" fill="#1f77b4" fill-opacity="0.58"/>
<circle cx="285.5" cy="144.5" r="1.75" fill="#1f77b4" fill-opacity="0.58"/>
<circle cx="267.5" cy="149.0" r="1.75" fill="#1f77b4" fill-opacity="0.58"/>
<circle cx="280.5" cy="149.0" r="1.75" fill="#1f77b4" fill-opacity="0.58"/>
<circle cx="129.5" cy="186.5" r="1.75" fill="#1f77b4" fill-opacity="0.58"/>
<circle cx="147.5" cy="186.0" r="1.75" fill="#1f77b4" fill-opacity="0.58"/>
<circle cx="139.0" cy="188.5" r="1.75" fill="#1f77b4" fill-opacity="0.58"/>
<circle cx="141.5" cy="189.5" r="1.75" fill="#1f77b4" fill-opacity="0.58"/>
<circle cx="120.0" cy="190.0" r="1.75" fill="#1f77b4" fill-opacity="0.58"/>
<circle cx="124.0" cy="189.5" r="1.75" fill="#1f77b4" fill-opacity="0.58"/>
<circle cx="111.5" cy="192.5" r="1.75" fill="#1f77b4" fill-opacity="0.58"/>
<circle cx="114.0" cy="194.0" r="1.75" fill="#1f77b4" fill-opacity="0.58"/>
<circle cx="117.0" cy="192.0" r="1.75" fill="#1f77b4" fill-opacity="0.58"/>
<circle cx="120.0" cy="194.5" r="1.75" fill="#1f77b4" fill-opacity="0.58"/>
<circle cx="123.0" cy="193.0" r="1.75" fill="#1f77b4" fill-opacity="0.58"/>
<circle cx="127.5" cy="195.0" r="1.75" fill="#1f77b4" fill-opacity="0.58"/>
<circle cx="135.5" cy="192.0" r="1.75" fill="#1f77b4" fill-opacity="0.58"/>
<circle cx="138.0" cy="193.5" r="1.75" fill="#1f77b4" fill-opacity="0.58"/>
<circle cx="143.0" cy="192.5" r="1.75" fill="#1f77b4" fill-opacity="0.58"/>
<circle cx="147.5" cy="192.0" r="1.75" fill="#1f77b4" fill-opacity="0.58"/>
<circle cx="151.0" cy="194.0" r="1.75" fill="#1f77b4" fill-opacity="0.58"/>
<circle cx="154.0" cy="192.5" r="1.75" fill="#1f77b4" fill-opacity="0.58"/>
<circle cx="109.0" cy="198.0" r="1.75" fill="#1f77b4" fill-opacity="0.58"/>
<circle cx="112.0" cy="196.5" r="1.75" fill="#1f77b4" fill-opacity="0.58"/>
<circle cx="117.0" cy="197.5" r="1.75" fill="#1f77b4" fill-opacity="0.58"/>
<circle cx="122.0" cy="197.0" r="1.75" fill="#1f77b4" fill-opacity="0.58"/>
<circle cx="125.0" cy="198.5" r="1.75" fill="#1f77b4" fill-opacity="0.58"/>
<circle cx="129.0" cy="197.0" r="1.75" fill="#1f77b4" fill-opacity="0.58"/>
<circle cx="132.0" cy="196.5" r="1.75" fill="#1f77b4" fill-opacity="0.58"/>
<circle cx="137.0" cy="196.5" r="1.75" fill="#1f77b4" fill-opacity="0.58"/>
<circle cx="141.0" cy="197.0" r="1.75" fill="#1f77b4" fill-opacity="0.58"/>
<circle cx="146.0" cy="198.0" r="1.75" fill="#1f77b4" fill-opacity="0.58"/>
<circle cx="148.5" cy="196.0" r="1.75" fill="#1f77b4" fill-opacity="0.58"/>
<circle cx="153.0" cy="197.0" r="1.75" fill="#1f77b4" fill-opacity="0.58"/>
<circle cx="108.0" cy="201.0" r="1.75" fill="#1f77b4" fill-opacity="0.58"/>
<circle cx="111.0" cy="199.5" r="1.75" fill="#1f77b4" fill-opacity="0.58"/>
<circle cx="115.0" cy="201.5" r="1.75" fill="#1f77b4" fill-opacity="0.58"/>
<circle cx="120.0" cy="200.0" r="1.75" fill="#1f77b4" fill-opacity="0.58"/>
<circle cx="123.0" cy="201.0" r="1.75" fill="#1f77b4" fill-opacity="0.58"/>
<circle cx="127.0" cy="200.5" r="1.75" fill="#1f77b4" fill-opacity="0.58"/>
<circle cx="132.5" cy="200.0" r="1.75" fill="#1f77b4" fill-opacity="0.58"/>
<circle cx="137.0" cy="202.0" r="1.75" fill="#1f77b4" fill-opacity="0.58"/>
<circle cx="140.5" cy="200.0" r="1.75" fill="#1f77b4" fill-opacity="0.58"/>
<circle cx="144.0" cy="201.5" r="1.75" fill="#1f77b4" fill-opacity="0.58"/>
<circle cx="149.0" cy="200.5" r="1.75" fill="#1f77b4" fill-opacity="0.58"/>
<circle cx="154.0" cy="201.0" r="1.75" fill="#1f77b4" fill-opacity="0.58"/>
<circle cx="158.0" cy="200.0" r="1.75" fill="#1f77b4" fill-opacity="0.58"/>
<circle cx="91.0" cy="205.0" r="1.75" fill="#1f77b4" fill-opacity="0.58"/>
<circle cx="96.0" cy="206.5" r="1.75" fill="#1f77b4" fill-opacity="0.58"/>
<circle cx="103.0" cy="205.0" r="1.75" fill="#1f77b4" fill-opacity="0.58"/>
<circle cx="106.0" cy="207.0" r="1.75" fill="#1f77b4" fill-opacity="0.58"/>
<circle cx="110.0" cy="205.5" r="1.75" fill="#1f77b4" fill-opacity="0.58"/>
<circle cx="113.0" cy="207.5" r="1.75" fill="#1f77b4" fill-opacity="0.58"/>
<circle cx="117.5" cy="206.0" r="1.75" fill="#1f77b4" fill-opacity="0.58"/>
<circle cx="122.0" cy="204.5" r="1.75" fill="#1f77b4" fill-opacity="0.58"/>
<circle cx="124.5" cy="206.5" r="1.75" fill="#1f77b4" fill-opacity="0.58"/>
<circle cx="128.0" cy="205.0" r="1.75" fill="#1f77b4" fill-opacity="0.58"/>
<circle cx="132.0" cy="206.5" r="1.75" fill="#1f77b4" fill-opacity="0.58"/>
<circle cx="135.0" cy="205.0" r="1.75" fill="#1f77b4" fill-opacity="0.58"/>
<circle cx="138.0" cy="207.0" r="1.75" fill="#1f77b4" fill-opacity="0.58"/>
<circle cx="141.0" cy="204.5" r="1.75" fill="#1f77b4" fill-opacity="0.58"/>
<circle cx="144.0" cy="206.5" r="1.75" fill="#1f77b4" fill-opacity="0.58"/>
<circle cx="147.5" cy="205.0" r="1.75" fill="#1f77b4" fill-opacity="0.58"/>
<circle cx="153.0" cy="204.0" r="1.75" fill="#1f77b4" fill-opacity="0.58"/>
<circle cx="156.5" cy="206.0" r="1.75" fill="#1f77b4" fill-opacity="0.58"/>
<circle cx="103.0" cy="209.0" r="1.75" fill="#1f77b4" fill-opacity="0.58"/>
<circle cx="119.0" cy="209.0" r="1.75" fill="#1f77b4" fill-opacity="0.58"/>
<circle cx="134.0" cy="209.0" r="1.75" fill="#1f77b4" fill-opacity="0.58"/>
<circle cx="91.0" cy="210.0" r="1.75" fill="#1f77b4" fill-opacity="0.58"/>
<circle cx="104.5" cy="210.5" r="1.75" fill="#1f77b4" fill-opacity="0.58"/>
<circle cx="101.0" cy="212.5" r="1.75" fill="#1f77b4" fill-opacity="0.58"/>
<circle cx="102.5" cy="214.0" r="1.75" fill="#1f77b4" fill-opacity="0.58"/>
<circle cx="104.0" cy="216.0" r="1.75" fill="#1f77b4" fill-opacity="0.58"/>
<circle cx="109.0" cy="212.5" r="1.75" fill="#1f77b4" fill-opacity="0.58"/>
<circle cx="112.0" cy="215.0" r="1.75" fill="#1f77b4" fill-opacity="0.58"/>
<circle cx="117.5" cy="212.5" r="1.75" fill="#1f77b4" fill-opacity="0.58"/>
<circle cx="123.0" cy="208.0" r="1.75" fill="#1f77b4" fill-opacity="0.58"/>
<circle cx="130.5" cy="212.2" r="1.75" fill="#1f77b4" fill-opacity="0.58"/>
<circle cx="134.5" cy="208.5" r="1.75" fill="#1f77b4" fill-opacity="0.58"/>
<circle cx="141.0" cy="213.5" r="1.75" fill="#1f77b4" fill-opacity="0.58"/>
<circle cx="157.5" cy="210.0" r="1.75" fill="#1f77b4" fill-opacity="0.58"/>
<circle cx="171.5" cy="180.0" r="1.75" fill="#1f77b4" fill-opacity="0.58"/>
<circle cx="179.5" cy="180.5" r="1.75" fill="#1f77b4" fill-opacity="0.58"/>
<circle cx="159.5" cy="185.0" r="1.75" fill="#1f77b4" fill-opacity="0.58"/>
<circle cx="162.5" cy="184.5" r="1.75" fill="#1f77b4" fill-opacity="0.58"/>
<circle cx="167.0" cy="184.5" r="1.75" fill="#1f77b4" fill-opacity="0.58"/>
<circle cx="161.0" cy="188.5" r="1.75" fill="#1f77b4" fill-opacity="0.58"/>
<circle cx="163.5" cy="190.0" r="1.75" fill="#1f77b4" fill-opacity="0.58"/>
<circle cx="161.0" cy="193.5" r="1.75" fill="#1f77b4" fill-opacity="0.58"/>
<circle cx="180.0" cy="186.5" r="1.75" fill="#1f77b4" fill-opacity="0.58"/>
<circle cx="188.0" cy="185.5" r="1.75" fill="#1f77b4" fill-opacity="0.58"/>
<circle cx="192.8" cy="185.5" r="1.75" fill="#1f77b4" fill-opacity="0.58"/>
<circle cx="204.5" cy="186.2" r="1.75" fill="#1f77b4" fill-opacity="0.58"/>
<circle cx="187.0" cy="192.5" r="1.75" fill="#1f77b4" fill-opacity="0.58"/>
<circle cx="191.5" cy="192.2" r="1.75" fill="#1f77b4" fill-opacity="0.58"/>
<circle cx="183.5" cy="195.2" r="1.75" fill="#1f77b4" fill-opacity="0.58"/>
<circle cx="195.5" cy="196.5" r="1.75" fill="#1f77b4" fill-opacity="0.58"/>
<circle cx="172.5" cy="195.5" r="1.75" fill="#1f77b4" fill-opacity="0.58"/>
<circle cx="172.0" cy="199.0" r="1.75" fill="#1f77b4" fill-opacity="0.58"/>
<circle cx="171.0" cy="201.0" r="1.75" fill="#1f77b4" fill-opacity="0.58"/>
<circle cx="157.5" cy="199.0" r="1.75" fill="#1f77b4" fill-opacity="0.58"/>
<circle cx="161.5" cy="200.5" r="1.75" fill="#1f77b4" fill-opacity="0.58"/>
<circle cx="164.5" cy="201.0" r="1.75" fill="#1f77b4" fill-opacity="0.58"/>
<circle cx="185.5" cy="200.5" r="1.75" fill="#1f77b4" fill-opacity="0.58"/>
<circle cx="222.0" cy="199.5" r="1.75" fill="#1f77b4" fill-opacity="0.58"/>
<circle cx="212.0" cy="203.5" r="1.75" fill="#1f77b4" fill-opacity="0.58"/>
<circle cx="232.1" cy="109.4" r="1.75" fill="#1f77b4" fill-opacity="0.58"/>
<circle cx="240.5" cy="106.2" r="1.75" fill="#1f77b4" fill-opacity="0.58"/>
<circle cx="203.9" cy="136.1" r="1.75" fill="#1f77b4" fill-opacity="0.58"/>
<circle cx="241.7" cy="91.1" r="1.75" fill="#1f77b4" fill-opacity="0.58"/>
<circle cx="215.1" cy="109.6" r="1.75" fill="#1f77b4" fill-opacity="0.58"/>
<circle cx="225.3" cy="110.9" r="1.75" fill="#1f77b4" fill-opacity="0.58"/>
<circle cx="223.5" cy="130.2" r="1.75" fill="#1f77b4" fill-opacity="0.58"/>
<circle cx="223.9" cy="92.6" r="1.75" fill="#1f77b4" fill-opacity="0.58"/>
<circle cx="224.6" cy="90.6" r="1.75" fill="#1f77b4" fill-opacity="0.58"/>
<circle cx="217.7" cy="99.8" r="1.75" fill="#1f77b4" fill-opacity="0.58"/>
<circle cx="204.8" cy="122.7" r="1.75" fill="#1f77b4" fill-opacity="0.58"/>
<circle cx="227.5" cy="112.8" r="1.75" fill="#1f77b4" fill-opacity="0.58"/>
<circle cx="231.8" cy="88.1" r="1.75" fill="#1f77b4" fill-opacity="0.58"/>
<circle cx="209.2" cy="113.9" r="1.75" fill="#1f77b4" fill-opacity="0.58"/>
<circle cx="217.1" cy="124.1" r="1.75" fill="#1f77b4" fill-opacity="0.58"/>
<circle cx="211.7" cy="117.4" r="1.75" fill="#1f77b4" fill-opacity="0.58"/>
<circle cx="233.3" cy="95.0" r="1.75" fill="#1f77b4" fill-opacity="0.58"/>
<circle cx="214.8" cy="121.4" r="1.75" fill="#1f77b4" fill-opacity="0.58"/>
<circle cx="219.4" cy="94.2" r="1.75" fill="#1f77b4" fill-opacity="0.58"/>
<circle cx="239.1" cy="104.4" r="1.75" fill="#1f77b4" fill-opacity="0.58"/>
<circle cx="218.9" cy="120.3" r="1.75" fill="#1f77b4" fill-opacity="0.58"/>
<circle cx="216.7" cy="132.0" r="1.75" fill="#1f77b4" fill-opacity="0.58"/>
<circle cx="213.0" cy="117.8" r="1.75" fill="#1f77b4" fill-opacity="0.58"/>
<circle cx="229.2" cy="115.1" r="1.75" fill="#1f77b4" fill-opacity="0.58"/>
<circle cx="213.3" cy="136.5" r="1.75" fill="#1f77b4" fill-opacity="0.58"/>
<circle cx="241.2" cy="102.2" r="1.75" fill="#1f77b4" fill-opacity="0.58"/>
<circle cx="203.3" cy="130.9" r="1.75" fill="#1f77b4" fill-opacity="0.58"/>
<circle cx="235.7" cy="112.9" r="1.75" fill="#1f77b4" fill-opacity="0.58"/>
<circle cx="225.9" cy="127.2" r="1.75" fill="#1f77b4" fill-opacity="0.58"/>
<circle cx="219.4" cy="106.6" r="1.75" fill="#1f77b4" fill-opacity="0.58"/>
<circle cx="207.9" cy="116.4" r="1.75" fill="#1f77b4" fill-opacity="0.58"/>
<circle cx="240.6" cy="87.0" r="1.75" fill="#1f77b4" fill-opacity="0.58"/>
<circle cx="212.5" cy="112.7" r="1.75" fill="#1f77b4" fill-opacity="0.58"/>
<circle cx="232.9" cy="112.3" r="1.75" fill="#1f77b4" fill-opacity="0.58"/>
<circle cx="218.6" cy="113.1" r="1.75" fill="#1f77b4" fill-opacity="0.58"/>
<circle cx="204.7" cy="136.4" r="1.75" fill="#1f77b4" fill-opacity="0.58"/>
<circle cx="233.4" cy="109.8" r="1.75" fill="#1f77b4" fill-opacity="0.58"/>
<circle cx="206.1" cy="131.6" r="1.75" fill="#1f77b4" fill-opacity="0.58"/>
<circle cx="217.0" cy="135.9" r="1.75" fill="#1f77b4" fill-opacity="0.58"/>
<circle cx="213.4" cy="122.0" r="1.75" fill="#1f77b4" fill-opacity="0.58"/>
<circle cx="238.4" cy="86.3" r="1.75" fill="#1f77b4" fill-opacity="0.58"/>
<circle cx="226.8" cy="116.3" r="1.75" fill="#1f77b4" fill-opacity="0.58"/>
<circle cx="216.4" cy="109.7" r="1.75" fill="#1f77b4" fill-opacity="0.58"/>
<circle cx="210.4" cy="111.4" r="1.75" fill="#1f77b4" fill-opacity="0.58"/>
<circle cx="241.8" cy="89.9" r="1.75" fill="#1f77b4" fill-opacity="0.58"/>
<circle cx="218.3" cy="109.4" r="1.75" fill="#1f77b4" fill-opacity="0.58"/>
<circle cx="201.7" cy="129.9" r="1.75" fill="#1f77b4" fill-opacity="0.58"/>
<circle cx="240.8" cy="103.1" r="1.75" fill="#1f77b4" fill-opacity="0.58"/>
<circle cx="223.5" cy="123.9" r="1.75" fill="#1f77b4" fill-opacity="0.58"/>
<circle cx="236.6" cy="100.7" r="1.75" fill="#1f77b4" fill-opacity="0.58"/>
<circle cx="234.0" cy="107.6" r="1.75" fill="#1f77b4" fill-opacity="0.58"/>
<circle cx="221.7" cy="122.4" r="1.75" fill="#1f77b4" fill-opacity="0.58"/>
<circle cx="213.6" cy="123.3" r="1.75" fill="#1f77b4" fill-opacity="0.58"/>
<circle cx="236.3" cy="100.9" r="1.75" fill="#1f77b4" fill-opacity="0.58"/>
<circle cx="224.7" cy="130.0" r="1.75" fill="#1f77b4" fill-opacity="0.58"/>
<circle cx="242.4" cy="96.5" r="1.75" fill="#1f77b4" fill-opacity="0.58"/>
<circle cx="228.7" cy="114.9" r="1.75" fill="#1f77b4" fill-opacity="0.58"/>
<circle cx="235.7" cy="109.3" r="1.75" fill="#1f77b4" fill-opacity="0.58"/>
<circle cx="242.4" cy="104.7" r="1.75" fill="#1f77b4" fill-opacity="0.58"/>
<circle cx="245.9" cy="99.1" r="1.75" fill="#1f77b4" fill-opacity="0.58"/>
<circle cx="237.2" cy="106.1" r="1.75" fill="#1f77b4" fill-opacity="0.58"/>
<circle cx="248.3" cy="96.8" r="1.75" fill="#1f77b4" fill-opacity="0.58"/>
<circle cx="240.5" cy="108.4" r="1.75" fill="#1f77b4" fill-opacity="0.58"/>
<circle cx="248.7" cy="91.3" r="1.75" fill="#1f77b4" fill-opacity="0.58"/>
<circle cx="238.9" cy="99.8" r="1.75" fill="#1f77b4" fill-opacity="0.58"/>
<circle cx="236.6" cy="113.7" r="1.75" fill="#1f77b4" fill-opacity="0.58"/>
<circle cx="246.7" cy="86.8" r="1.75" fill="#1f77b4" fill-opacity="0.58"/>
<circle cx="245.6" cy="96.9" r="1.75" fill="#1f77b4" fill-opacity="0.58"/>
<circle cx="237.4" cy="89.4" r="1.75" fill="#1f77b4" fill-opacity="0.58"/>
<circle cx="245.1" cy="92.7" r="1.75" fill="#1f77b4" fill-opacity="0.58"/>
<circle cx="240.1" cy="94.2" r="1.75" fill="#1f77b4" fill-opacity="0.58"/>
<circle cx="245.1" cy="99.5" r="1.75" fill="#1f77b4" fill-opacity="0.58"/>
<circle cx="244.4" cy="98.5" r="1.75" fill="#1f77b4" fill-opacity="0.58"/>
<circle cx="239.2" cy="103.5" r="1.75" fill="#1f77b4" fill-opacity="0.58"/>
<circle cx="235.2" cy="110.4" r="1.75" fill="#1f77b4" fill-opacity="0.58"/>
<circle cx="222.0" cy="99.6" r="1.8" fill="#ff7f0e"/>
<circle cx="234.4" cy="121.6" r="1.8" fill="#ff7f0e"/>
<circle cx="265.6" cy="124.4" r="1.8" fill="#ff7f0e"/>
<circle cx="271.6" cy="127.0" r="1.8" fill="#ff7f0e"/>
<circle cx="204.4" cy="155.6" r="1.8" fill="#ff7f0e"/>
<circle cx="145.0" cy="184.0" r="1.8" fill="#ff7f0e"/>
<circle cx="158.0" cy="187.0" r="1.8" fill="#ff7f0e"/>
<circle cx="114.0" cy="207.0" r="1.8" fill="#ff7f0e"/>
<circle cx="127.0" cy="209.0" r="1.8" fill="#ff7f0e"/>
<circle cx="130.0" cy="205.0" r="1.8" fill="#ff7f0e"/>
<circle cx="134.4" cy="201.0" r="1.8" fill="#ff7f0e"/>
<circle cx="149.0" cy="206.4" r="1.8" fill="#ff7f0e"/>
<path d="M219.50,108.10H223.10V110.80H225.80V114.40H223.10V117.10H219.50V114.40H216.80V110.80H219.50Z" fill="#e8380f"/>
<path d="M245.60,111.50H249.20V114.20H251.90V117.80H249.20V120.50H245.60V117.80H242.90V114.20H245.60Z" fill="#0000ff"/>
<path d="M160.20,173.90H163.80V176.60H166.50V180.20H163.80V182.90H160.20V180.20H157.50V176.60H160.20Z" fill="#008000"/>
<path d="M255.20,112.50H258.80V115.20H261.50V118.80H258.80V121.50H255.20V118.80H252.50V115.20H255.20Z" fill="#ffd700"/>
<path d="M38.00,206.89 L39.00,206.74 L40.00,206.58 L41.00,206.43 L42.00,206.27 L43.00,206.11 L44.00,205.95 L45.00,205.79 L46.00,205.62 L47.00,205.46 L48.00,205.29 L49.00,205.12 L50.00,204.95 L51.00,204.77 L52.00,204.59 L53.00,204.41 L54.00,204.23 L55.00,204.05 L56.00,203.86 L57.00,203.68 L58.00,203.49 L59.00,203.29 L60.00,203.10 L61.00,202.90 L62.00,202.70 L63.00,202.50 L64.00,202.29 L65.00,202.09 L66.00,201.88 L67.00,201.67 L68.00,201.45 L69.00,201.23 L70.00,201.01 L71.00,200.79 L72.00,200.57 L73.00,200.34 L74.00,200.11 L75.00,199.87 L76.00,199.64 L77.00,199.40 L78.00,199.15 L79.00,198.91 L80.00,198.66 L81.00,198.41 L82.00,198.15 L83.00,197.90 L84.00,197.64 L85.00,197.37 L86.00,197.10 L87.00,196.83 L88.00,196.56 L89.00,196.28 L90.00,196.00 L91.00,195.72 L92.00,195.43 L93.00,195.14 L94.00,194.85 L95.00,194.55 L96.00,194.25 L97.00,193.94 L98.00,193.63 L99.00,193.32 L100.00,193.01 L101.00,192.69 L102.00,192.36 L103.00,192.03 L104.00,191.70 L105.00,191.36 L106.00,191.02 L107.00,190.68 L108.00,190.33 L109.00,189.98 L110.00,189.62 L111.00,189.26 L112.00,188.89 L113.00,188.52 L114.00,188.15 L115.00,187.77 L116.00,187.39 L117.00,187.00 L118.00,186.60 L119.00,186.21 L120.00,185.80 L121.00,185.39 L122.00,184.98 L123.00,184.56 L124.00,184.14 L125.00,183.71 L126.00,183.28 L127.00,182.84 L128.00,182.40 L129.00,181.95 L130.00,181.49 L131.00,181.03 L132.00,180.56 L133.00,180.09 L134.00,179.62 L135.00,179.13 L136.00,178.64 L137.00,178.15 L138.00,177.65 L139.00,177.14 L140.00,176.63 L141.00,176.11 L142.00,175.58 L143.00,175.05 L144.00,174.51 L145.00,173.96 L146.00,173.41 L147.00,172.85 L148.00,172.29 L149.00,171.71 L150.00,171.13 L151.00,170.55 L152.00,169.95 L153.00,169.35 L154.00,168.74 L155.00,168.13 L156.00,167.50 L157.00,166.87 L158.00,166.24 L159.00,165.59 L160.00,164.93 L161.00,164.27 L162.00,163.60 L163.00,162.92 L164.00,162.24 L165.00,161.54 L166.00,160.84 L167.00,160.13 L168.00,159.41 L169.00,158.68 L170.00,157.94 L171.00,157.19 L172.00,156.43 L173.00,155.67 L174.00,154.89 L175.00,154.11 L176.00,153.32 L177.00,152.51 L178.00,151.70 L179.00,150.87 L180.00,150.04 L181.00,149.20 L182.00,148.34 L183.00,147.48 L184.00,146.60 L185.00,145.72 L186.00,144.82 L187.00,143.92 L188.00,143.00 L189.00,142.07 L190.00,141.13 L191.00,140.18 L192.00,139.21 L193.00,138.24 L194.00,137.25 L195.00,136.25 L196.00,135.24 L197.00,134.21 L198.00,133.18 L199.00,132.13 L200.00,131.07 L201.00,129.99 L202.00,128.91 L203.00,127.80 L204.00,126.69 L205.00,125.56 L206.00,124.42 L207.00,123.26 L208.00,122.10 L209.00,120.91 L210.00,119.71 L211.00,118.50 L212.00,117.27 L213.00,116.03 L214.00,114.77 L215.00,113.50 L216.00,112.21 L217.00,110.91 L218.00,109.59 L219.00,108.25 L220.00,106.90 L221.00,105.53 L222.00,104.14 L223.00,102.74 L224.00,101.32 L225.00,99.88 L226.00,98.43 L227.00,96.96 L228.00,95.47 L229.00,93.96 L230.00,92.43 L231.00,90.89 L232.00,89.32 L233.00,87.74 L234.00,86.14 L235.00,84.51 L236.00,82.87 L237.00,81.21 L238.00,79.53 L239.00,77.83 L240.00,76.10 L241.00,74.36 L242.00,72.59 L243.00,70.81 L244.00,69.00 L245.00,67.17 L246.00,65.32 L247.00,63.44 L248.00,61.54 L249.00,59.62 L250.00,57.67 L251.00,55.71 L252.00,53.71 L253.00,51.70 L254.00,49.66 L255.00,47.59 L256.00,45.50 L257.00,43.38 L258.00,41.24 L259.00,39.07 L260.00,36.87 L261.00,34.65 L262.00,32.40 L263.00,30.13 L264.00,27.82 L265.00,25.49 L266.00,23.13 L267.00,20.74 L268.00,18.32 L269.00,15.88 L270.00,13.40 L271.00,10.89 L272.00,8.35 L273.00,5.78 L274.00,3.18 L275.00,0.55 L276.00,-2.11 L277.00,-4.81 L278.00,-7.54 L279.00,-10.30 L280.00,-13.10 L281.00,-15.93 L282.00,-18.80 L283.00,-21.70 L284.00,-24.63 L285.00,-27.60 L286.00,-30.61 L287.00,-33.65 L288.00,-36.73 L289.00,-39.85 L290.00,-43.01 L291.00,-46.20 L292.00,-49.44 L293.00,-52.71 L294.00,-56.02 L295.00,-59.38 L296.00,-62.77 L297.00,-66.21 L298.00,-69.68 L299.00,-73.20 L300.00,-76.77 L301.00,-80.37 L302.00,-84.02 L303.00,-87.72 L304.00,-91.46 L305.00,-95.24 L306.00,-99.07 L307.00,-102.95 L308.00,-106.88 L309.00,-110.85 L310.00,-114.87 L311.00,-118.94 L312.00,-123.06 L313.00,-127.23 L314.00,-131.45 L315.00,-135.72 L316.00,-140.05 L317.00,-144.42 L318.00,-148.85 L319.00,-153.34 L320.00,-157.87 L321.00,-162.47 L322.00,-167.12 L323.00,-171.82 L324.00,-176.59 L325.00,-181.41 L326.00,-186.29 L327.00,-191.23 L328.00,-196.23 L329.00,-201.29 L330.00,-206.41" fill="none" stroke="#000" stroke-width="1.05" stroke-dasharray="1.04,1.72"/>
<path d="M38.00,209.46 L39.00,209.34 L40.00,209.22 L41.00,209.10 L42.00,208.97 L43.00,208.85 L44.00,208.72 L45.00,208.59 L46.00,208.46 L47.00,208.33 L48.00,208.19 L49.00,208.06 L50.00,207.92 L51.00,207.78 L52.00,207.64 L53.00,207.50 L54.00,207.36 L55.00,207.21 L56.00,207.06 L57.00,206.92 L58.00,206.77 L59.00,206.61 L60.00,206.46 L61.00,206.30 L62.00,206.14 L63.00,205.98 L64.00,205.82 L65.00,205.66 L66.00,205.49 L67.00,205.32 L68.00,205.15 L69.00,204.98 L70.00,204.81 L71.00,204.63 L72.00,204.45 L73.00,204.27 L74.00,204.09 L75.00,203.90 L76.00,203.71 L77.00,203.52 L78.00,203.33 L79.00,203.14 L80.00,202.94 L81.00,202.74 L82.00,202.54 L83.00,202.33 L84.00,202.13 L85.00,201.92 L86.00,201.71 L87.00,201.49 L88.00,201.28 L89.00,201.06 L90.00,200.83 L91.00,200.61 L92.00,200.38 L93.00,200.15 L94.00,199.92 L95.00,199.68 L96.00,199.44 L97.00,199.20 L98.00,198.96 L99.00,198.71 L100.00,198.46 L101.00,198.20 L102.00,197.95 L103.00,197.69 L104.00,197.42 L105.00,197.16 L106.00,196.89 L107.00,196.61 L108.00,196.34 L109.00,196.06 L110.00,195.78 L111.00,195.49 L112.00,195.20 L113.00,194.91 L114.00,194.61 L115.00,194.31 L116.00,194.00 L117.00,193.70 L118.00,193.38 L119.00,193.07 L120.00,192.75 L121.00,192.42 L122.00,192.10 L123.00,191.77 L124.00,191.43 L125.00,191.09 L126.00,190.75 L127.00,190.40 L128.00,190.05 L129.00,189.69 L130.00,189.33 L131.00,188.97 L132.00,188.60 L133.00,188.22 L134.00,187.84 L135.00,187.46 L136.00,187.07 L137.00,186.68 L138.00,186.28 L139.00,185.88 L140.00,185.47 L141.00,185.06 L142.00,184.65 L143.00,184.22 L144.00,183.80 L145.00,183.36 L146.00,182.93 L147.00,182.48 L148.00,182.03 L149.00,181.58 L150.00,181.12 L151.00,180.66 L152.00,180.19 L153.00,179.71 L154.00,179.23 L155.00,178.74 L156.00,178.24 L157.00,177.74 L158.00,177.24 L159.00,176.73 L160.00,176.21 L161.00,175.68 L162.00,175.15 L163.00,174.61 L164.00,174.07 L165.00,173.52 L166.00,172.96 L167.00,172.40 L168.00,171.83 L169.00,171.25 L170.00,170.66 L171.00,170.07 L172.00,169.47 L173.00,168.86 L174.00,168.25 L175.00,167.63 L176.00,167.00 L177.00,166.36 L178.00,165.72 L179.00,165.06 L180.00,164.40 L181.00,163.73 L182.00,163.06 L183.00,162.37 L184.00,161.68 L185.00,160.98 L186.00,160.27 L187.00,159.55 L188.00,158.82 L189.00,158.08 L190.00,157.34 L191.00,156.58 L192.00,155.82 L193.00,155.05 L194.00,154.26 L195.00,153.47 L196.00,152.67 L197.00,151.86 L198.00,151.04 L199.00,150.20 L200.00,149.36 L201.00,148.51 L202.00,147.65 L203.00,146.78 L204.00,145.89 L205.00,145.00 L206.00,144.09 L207.00,143.18 L208.00,142.25 L209.00,141.31 L210.00,140.36 L211.00,139.40 L212.00,138.43 L213.00,137.44 L214.00,136.45 L215.00,135.44 L216.00,134.42 L217.00,133.38 L218.00,132.34 L219.00,131.28 L220.00,130.20 L221.00,129.12 L222.00,128.02 L223.00,126.91 L224.00,125.78 L225.00,124.64 L226.00,123.49 L227.00,122.32 L228.00,121.14 L229.00,119.95 L230.00,118.74 L231.00,117.51 L232.00,116.27 L233.00,115.02 L234.00,113.75 L235.00,112.46 L236.00,111.16 L237.00,109.84 L238.00,108.51 L239.00,107.16 L240.00,105.80 L241.00,104.41 L242.00,103.01 L243.00,101.60 L244.00,100.16 L245.00,98.71 L246.00,97.25 L247.00,95.76 L248.00,94.25 L249.00,92.73 L250.00,91.19 L251.00,89.63 L252.00,88.05 L253.00,86.45 L254.00,84.83 L255.00,83.20 L256.00,81.54 L257.00,79.86 L258.00,78.16 L259.00,76.44 L260.00,74.70 L261.00,72.94 L262.00,71.16 L263.00,69.35 L264.00,67.53 L265.00,65.68 L266.00,63.81 L267.00,61.91 L268.00,60.00 L269.00,58.06 L270.00,56.09 L271.00,54.11 L272.00,52.09 L273.00,50.06 L274.00,48.00 L275.00,45.91 L276.00,43.80 L277.00,41.66 L278.00,39.50 L279.00,37.31 L280.00,35.09 L281.00,32.85 L282.00,30.57 L283.00,28.28 L284.00,25.95 L285.00,23.59 L286.00,21.21 L287.00,18.80 L288.00,16.36 L289.00,13.88 L290.00,11.38 L291.00,8.85 L292.00,6.29 L293.00,3.69 L294.00,1.07 L295.00,-1.59 L296.00,-4.28 L297.00,-7.01 L298.00,-9.76 L299.00,-12.55 L300.00,-15.38 L301.00,-18.23 L302.00,-21.13 L303.00,-24.05 L304.00,-27.02 L305.00,-30.02 L306.00,-33.06 L307.00,-36.13 L308.00,-39.24 L309.00,-42.39 L310.00,-45.58 L311.00,-48.80 L312.00,-52.07 L313.00,-55.37 L314.00,-58.72 L315.00,-62.10 L316.00,-65.53 L317.00,-69.00 L318.00,-72.51 L319.00,-76.07 L320.00,-79.66 L321.00,-83.31 L322.00,-86.99 L323.00,-90.72 L324.00,-94.50 L325.00,-98.32 L326.00,-102.19 L327.00,-106.10 L328.00,-110.07 L329.00,-114.08 L330.00,-118.14" fill="none" stroke="#000" stroke-width="1.05" stroke-dasharray="6.66,1.66,1.04,1.66"/>
<path d="M38.00,213.06 L39.00,212.99 L40.00,212.91 L41.00,212.83 L42.00,212.75 L43.00,212.68 L44.00,212.59 L45.00,212.51 L46.00,212.43 L47.00,212.35 L48.00,212.26 L49.00,212.18 L50.00,212.09 L51.00,212.00 L52.00,211.91 L53.00,211.82 L54.00,211.73 L55.00,211.64 L56.00,211.55 L57.00,211.45 L58.00,211.36 L59.00,211.26 L60.00,211.16 L61.00,211.06 L62.00,210.96 L63.00,210.86 L64.00,210.76 L65.00,210.65 L66.00,210.55 L67.00,210.44 L68.00,210.33 L69.00,210.22 L70.00,210.11 L71.00,210.00 L72.00,209.89 L73.00,209.77 L74.00,209.66 L75.00,209.54 L76.00,209.42 L77.00,209.30 L78.00,209.18 L79.00,209.06 L80.00,208.93 L81.00,208.81 L82.00,208.68 L83.00,208.55 L84.00,208.42 L85.00,208.28 L86.00,208.15 L87.00,208.01 L88.00,207.88 L89.00,207.74 L90.00,207.60 L91.00,207.45 L92.00,207.31 L93.00,207.16 L94.00,207.02 L95.00,206.87 L96.00,206.72 L97.00,206.56 L98.00,206.41 L99.00,206.25 L100.00,206.09 L101.00,205.93 L102.00,205.77 L103.00,205.60 L104.00,205.44 L105.00,205.27 L106.00,205.10 L107.00,204.92 L108.00,204.75 L109.00,204.57 L110.00,204.39 L111.00,204.21 L112.00,204.03 L113.00,203.84 L114.00,203.65 L115.00,203.46 L116.00,203.27 L117.00,203.07 L118.00,202.88 L119.00,202.68 L120.00,202.47 L121.00,202.27 L122.00,202.06 L123.00,201.85 L124.00,201.64 L125.00,201.42 L126.00,201.20 L127.00,200.98 L128.00,200.76 L129.00,200.54 L130.00,200.31 L131.00,200.08 L132.00,199.84 L133.00,199.60 L134.00,199.36 L135.00,199.12 L136.00,198.88 L137.00,198.63 L138.00,198.38 L139.00,198.12 L140.00,197.86 L141.00,197.60 L142.00,197.34 L143.00,197.07 L144.00,196.80 L145.00,196.53 L146.00,196.25 L147.00,195.97 L148.00,195.68 L149.00,195.40 L150.00,195.10 L151.00,194.81 L152.00,194.51 L153.00,194.21 L154.00,193.90 L155.00,193.59 L156.00,193.28 L157.00,192.96 L158.00,192.64 L159.00,192.32 L160.00,191.99 L161.00,191.66 L162.00,191.32 L163.00,190.98 L164.00,190.64 L165.00,190.29 L166.00,189.93 L167.00,189.57 L168.00,189.21 L169.00,188.85 L170.00,188.48 L171.00,188.10 L172.00,187.72 L173.00,187.34 L174.00,186.95 L175.00,186.55 L176.00,186.15 L177.00,185.75 L178.00,185.34 L179.00,184.93 L180.00,184.51 L181.00,184.08 L182.00,183.66 L183.00,183.22 L184.00,182.78 L185.00,182.34 L186.00,181.89 L187.00,181.43 L188.00,180.97 L189.00,180.50 L190.00,180.03 L191.00,179.55 L192.00,179.07 L193.00,178.58 L194.00,178.08 L195.00,177.58 L196.00,177.07 L197.00,176.56 L198.00,176.04 L199.00,175.51 L200.00,174.98 L201.00,174.44 L202.00,173.89 L203.00,173.34 L204.00,172.78 L205.00,172.21 L206.00,171.64 L207.00,171.06 L208.00,170.47 L209.00,169.88 L210.00,169.27 L211.00,168.66 L212.00,168.05 L213.00,167.42 L214.00,166.79 L215.00,166.15 L216.00,165.50 L217.00,164.85 L218.00,164.19 L219.00,163.51 L220.00,162.84 L221.00,162.15 L222.00,161.45 L223.00,160.75 L224.00,160.03 L225.00,159.31 L226.00,158.58 L227.00,157.84 L228.00,157.09 L229.00,156.34 L230.00,155.57 L231.00,154.79 L232.00,154.01 L233.00,153.21 L234.00,152.41 L235.00,151.59 L236.00,150.77 L237.00,149.93 L238.00,149.09 L239.00,148.23 L240.00,147.37 L241.00,146.49 L242.00,145.60 L243.00,144.71 L244.00,143.80 L245.00,142.88 L246.00,141.95 L247.00,141.00 L248.00,140.05 L249.00,139.09 L250.00,138.11 L251.00,137.12 L252.00,136.12 L253.00,135.11 L254.00,134.08 L255.00,133.04 L256.00,131.99 L257.00,130.93 L258.00,129.85 L259.00,128.76 L260.00,127.66 L261.00,126.54 L262.00,125.41 L263.00,124.27 L264.00,123.11 L265.00,121.94 L266.00,120.76 L267.00,119.56 L268.00,118.34 L269.00,117.11 L270.00,115.87 L271.00,114.61 L272.00,113.33 L273.00,112.04 L274.00,110.73 L275.00,109.41 L276.00,108.07 L277.00,106.72 L278.00,105.35 L279.00,103.96 L280.00,102.56 L281.00,101.13 L282.00,99.69 L283.00,98.24 L284.00,96.76 L285.00,95.27 L286.00,93.76 L287.00,92.23 L288.00,90.68 L289.00,89.12 L290.00,87.53 L291.00,85.93 L292.00,84.30 L293.00,82.66 L294.00,80.99 L295.00,79.31 L296.00,77.60 L297.00,75.88 L298.00,74.13 L299.00,72.36 L300.00,70.57 L301.00,68.76 L302.00,66.93 L303.00,65.07 L304.00,63.19 L305.00,61.29 L306.00,59.37 L307.00,57.42 L308.00,55.45 L309.00,53.45 L310.00,51.43 L311.00,49.39 L312.00,47.32 L313.00,45.22 L314.00,43.10 L315.00,40.96 L316.00,38.79 L317.00,36.59 L318.00,34.36 L319.00,32.11 L320.00,29.83 L321.00,27.52 L322.00,25.19 L323.00,22.82 L324.00,20.43 L325.00,18.01 L326.00,15.56 L327.00,13.07 L328.00,10.56 L329.00,8.02 L330.00,5.45" fill="none" stroke="#000" stroke-width="1.05" stroke-dasharray="none"/>
<path d="M38.00,214.44 L39.00,214.38 L40.00,214.32 L41.00,214.26 L42.00,214.20 L43.00,214.14 L44.00,214.08 L45.00,214.01 L46.00,213.95 L47.00,213.88 L48.00,213.82 L49.00,213.75 L50.00,213.68 L51.00,213.61 L52.00,213.55 L53.00,213.48 L54.00,213.40 L55.00,213.33 L56.00,213.26 L57.00,213.19 L58.00,213.11 L59.00,213.04 L60.00,212.96 L61.00,212.88 L62.00,212.80 L63.00,212.73 L64.00,212.65 L65.00,212.56 L66.00,212.48 L67.00,212.40 L68.00,212.32 L69.00,212.23 L70.00,212.14 L71.00,212.06 L72.00,211.97 L73.00,211.88 L74.00,211.79 L75.00,211.70 L76.00,211.61 L77.00,211.51 L78.00,211.42 L79.00,211.32 L80.00,211.22 L81.00,211.13 L82.00,211.03 L83.00,210.92 L84.00,210.82 L85.00,210.72 L86.00,210.61 L87.00,210.51 L88.00,210.40 L89.00,210.29 L90.00,210.18 L91.00,210.07 L92.00,209.96 L93.00,209.85 L94.00,209.73 L95.00,209.62 L96.00,209.50 L97.00,209.38 L98.00,209.26 L99.00,209.13 L100.00,209.01 L101.00,208.89 L102.00,208.76 L103.00,208.63 L104.00,208.50 L105.00,208.37 L106.00,208.24 L107.00,208.10 L108.00,207.96 L109.00,207.83 L110.00,207.69 L111.00,207.55 L112.00,207.40 L113.00,207.26 L114.00,207.11 L115.00,206.96 L116.00,206.81 L117.00,206.66 L118.00,206.51 L119.00,206.35 L120.00,206.19 L121.00,206.03 L122.00,205.87 L123.00,205.71 L124.00,205.54 L125.00,205.37 L126.00,205.20 L127.00,205.03 L128.00,204.86 L129.00,204.68 L130.00,204.51 L131.00,204.33 L132.00,204.14 L133.00,203.96 L134.00,203.77 L135.00,203.58 L136.00,203.39 L137.00,203.20 L138.00,203.00 L139.00,202.80 L140.00,202.60 L141.00,202.40 L142.00,202.19 L143.00,201.98 L144.00,201.77 L145.00,201.56 L146.00,201.34 L147.00,201.12 L148.00,200.90 L149.00,200.68 L150.00,200.45 L151.00,200.22 L152.00,199.99 L153.00,199.76 L154.00,199.52 L155.00,199.28 L156.00,199.03 L157.00,198.79 L158.00,198.54 L159.00,198.28 L160.00,198.03 L161.00,197.77 L162.00,197.51 L163.00,197.24 L164.00,196.97 L165.00,196.70 L166.00,196.42 L167.00,196.15 L168.00,195.86 L169.00,195.58 L170.00,195.29 L171.00,195.00 L172.00,194.70 L173.00,194.40 L174.00,194.10 L175.00,193.79 L176.00,193.48 L177.00,193.17 L178.00,192.85 L179.00,192.52 L180.00,192.20 L181.00,191.87 L182.00,191.53 L183.00,191.20 L184.00,190.85 L185.00,190.51 L186.00,190.16 L187.00,189.80 L188.00,189.44 L189.00,189.08 L190.00,188.71 L191.00,188.34 L192.00,187.96 L193.00,187.58 L194.00,187.19 L195.00,186.80 L196.00,186.41 L197.00,186.01 L198.00,185.60 L199.00,185.19 L200.00,184.77 L201.00,184.35 L202.00,183.93 L203.00,183.50 L204.00,183.06 L205.00,182.62 L206.00,182.17 L207.00,181.72 L208.00,181.26 L209.00,180.80 L210.00,180.33 L211.00,179.86 L212.00,179.38 L213.00,178.89 L214.00,178.40 L215.00,177.90 L216.00,177.40 L217.00,176.88 L218.00,176.37 L219.00,175.85 L220.00,175.32 L221.00,174.78 L222.00,174.24 L223.00,173.69 L224.00,173.13 L225.00,172.57 L226.00,172.00 L227.00,171.43 L228.00,170.84 L229.00,170.25 L230.00,169.66 L231.00,169.05 L232.00,168.44 L233.00,167.82 L234.00,167.19 L235.00,166.56 L236.00,165.92 L237.00,165.27 L238.00,164.61 L239.00,163.94 L240.00,163.27 L241.00,162.58 L242.00,161.89 L243.00,161.19 L244.00,160.49 L245.00,159.77 L246.00,159.05 L247.00,158.31 L248.00,157.57 L249.00,156.82 L250.00,156.06 L251.00,155.29 L252.00,154.51 L253.00,153.72 L254.00,152.92 L255.00,152.11 L256.00,151.29 L257.00,150.46 L258.00,149.62 L259.00,148.78 L260.00,147.92 L261.00,147.05 L262.00,146.17 L263.00,145.28 L264.00,144.37 L265.00,143.46 L266.00,142.54 L267.00,141.60 L268.00,140.66 L269.00,139.70 L270.00,138.73 L271.00,137.75 L272.00,136.75 L273.00,135.75 L274.00,134.73 L275.00,133.70 L276.00,132.66 L277.00,131.60 L278.00,130.54 L279.00,129.45 L280.00,128.36 L281.00,127.25 L282.00,126.13 L283.00,125.00 L284.00,123.85 L285.00,122.69 L286.00,121.51 L287.00,120.32 L288.00,119.11 L289.00,117.89 L290.00,116.66 L291.00,115.41 L292.00,114.14 L293.00,112.86 L294.00,111.56 L295.00,110.25 L296.00,108.92 L297.00,107.58 L298.00,106.22 L299.00,104.84 L300.00,103.45 L301.00,102.04 L302.00,100.61 L303.00,99.16 L304.00,97.70 L305.00,96.22 L306.00,94.72 L307.00,93.20 L308.00,91.67 L309.00,90.11 L310.00,88.54 L311.00,86.95 L312.00,85.33 L313.00,83.70 L314.00,82.05 L315.00,80.38 L316.00,78.69 L317.00,76.97 L318.00,75.24 L319.00,73.49 L320.00,71.71 L321.00,69.91 L322.00,68.09 L323.00,66.25 L324.00,64.39 L325.00,62.50 L326.00,60.59 L327.00,58.66 L328.00,56.70 L329.00,54.72 L330.00,52.72" fill="none" stroke="#000" stroke-width="1.05" stroke-dasharray="3.85,1.66"/>
</g>
<path d="M38.5,219.5V4.2H328.8V219.5H38.5" fill="none" stroke="#111" stroke-width="0.9"/>
<line x1="40.90" y1="219.50" x2="40.90" y2="222.90" stroke="#000" stroke-width="0.8"/>
<text transform="translate(40.90,233.20) scale(1.09,1)" text-anchor="middle" font-size="10.7">10<tspan dx="0.9" dy="-4.0" font-size="8.3">−3</tspan></text>
<line x1="59.99" y1="219.50" x2="59.99" y2="221.40" stroke="#333" stroke-width="0.6"/>
<line x1="71.15" y1="219.50" x2="71.15" y2="221.40" stroke="#333" stroke-width="0.6"/>
<line x1="79.07" y1="219.50" x2="79.07" y2="221.40" stroke="#333" stroke-width="0.6"/>
<line x1="85.21" y1="219.50" x2="85.21" y2="221.40" stroke="#333" stroke-width="0.6"/>
<line x1="90.23" y1="219.50" x2="90.23" y2="221.40" stroke="#333" stroke-width="0.6"/>
<line x1="94.48" y1="219.50" x2="94.48" y2="221.40" stroke="#333" stroke-width="0.6"/>
<line x1="98.16" y1="219.50" x2="98.16" y2="221.40" stroke="#333" stroke-width="0.6"/>
<line x1="101.40" y1="219.50" x2="101.40" y2="221.40" stroke="#333" stroke-width="0.6"/>
<line x1="104.30" y1="219.50" x2="104.30" y2="222.90" stroke="#000" stroke-width="0.8"/>
<text transform="translate(104.30,233.20) scale(1.09,1)" text-anchor="middle" font-size="10.7">10<tspan dx="0.9" dy="-4.0" font-size="8.3">−2</tspan></text>
<line x1="123.39" y1="219.50" x2="123.39" y2="221.40" stroke="#333" stroke-width="0.6"/>
<line x1="134.55" y1="219.50" x2="134.55" y2="221.40" stroke="#333" stroke-width="0.6"/>
<line x1="142.47" y1="219.50" x2="142.47" y2="221.40" stroke="#333" stroke-width="0.6"/>
<line x1="148.61" y1="219.50" x2="148.61" y2="221.40" stroke="#333" stroke-width="0.6"/>
<line x1="153.63" y1="219.50" x2="153.63" y2="221.40" stroke="#333" stroke-width="0.6"/>
<line x1="157.88" y1="219.50" x2="157.88" y2="221.40" stroke="#333" stroke-width="0.6"/>
<line x1="161.56" y1="219.50" x2="161.56" y2="221.40" stroke="#333" stroke-width="0.6"/>
<line x1="164.80" y1="219.50" x2="164.80" y2="221.40" stroke="#333" stroke-width="0.6"/>
<line x1="167.70" y1="219.50" x2="167.70" y2="222.90" stroke="#000" stroke-width="0.8"/>
<text transform="translate(167.70,233.20) scale(1.09,1)" text-anchor="middle" font-size="10.7">10<tspan dx="0.9" dy="-4.0" font-size="8.3">−1</tspan></text>
<line x1="186.79" y1="219.50" x2="186.79" y2="221.40" stroke="#333" stroke-width="0.6"/>
<line x1="197.95" y1="219.50" x2="197.95" y2="221.40" stroke="#333" stroke-width="0.6"/>
<line x1="205.87" y1="219.50" x2="205.87" y2="221.40" stroke="#333" stroke-width="0.6"/>
<line x1="212.01" y1="219.50" x2="212.01" y2="221.40" stroke="#333" stroke-width="0.6"/>
<line x1="217.03" y1="219.50" x2="217.03" y2="221.40" stroke="#333" stroke-width="0.6"/>
<line x1="221.28" y1="219.50" x2="221.28" y2="221.40" stroke="#333" stroke-width="0.6"/>
<line x1="224.96" y1="219.50" x2="224.96" y2="221.40" stroke="#333" stroke-width="0.6"/>
<line x1="228.20" y1="219.50" x2="228.20" y2="221.40" stroke="#333" stroke-width="0.6"/>
<line x1="231.10" y1="219.50" x2="231.10" y2="222.90" stroke="#000" stroke-width="0.8"/>
<text transform="translate(231.10,233.20) scale(1.09,1)" text-anchor="middle" font-size="10.7">10<tspan dx="0.9" dy="-4.0" font-size="8.3">0</tspan></text>
<line x1="250.19" y1="219.50" x2="250.19" y2="221.40" stroke="#333" stroke-width="0.6"/>
<line x1="261.35" y1="219.50" x2="261.35" y2="221.40" stroke="#333" stroke-width="0.6"/>
<line x1="269.27" y1="219.50" x2="269.27" y2="221.40" stroke="#333" stroke-width="0.6"/>
<line x1="275.41" y1="219.50" x2="275.41" y2="221.40" stroke="#333" stroke-width="0.6"/>
<line x1="280.43" y1="219.50" x2="280.43" y2="221.40" stroke="#333" stroke-width="0.6"/>
<line x1="284.68" y1="219.50" x2="284.68" y2="221.40" stroke="#333" stroke-width="0.6"/>
<line x1="288.36" y1="219.50" x2="288.36" y2="221.40" stroke="#333" stroke-width="0.6"/>
<line x1="291.60" y1="219.50" x2="291.60" y2="221.40" stroke="#333" stroke-width="0.6"/>
<line x1="294.50" y1="219.50" x2="294.50" y2="222.90" stroke="#000" stroke-width="0.8"/>
<text transform="translate(294.50,233.20) scale(1.09,1)" text-anchor="middle" font-size="10.7">10<tspan dx="0.9" dy="-4.0" font-size="8.3">1</tspan></text>
<line x1="313.59" y1="219.50" x2="313.59" y2="221.40" stroke="#333" stroke-width="0.6"/>
<line x1="324.75" y1="219.50" x2="324.75" y2="221.40" stroke="#333" stroke-width="0.6"/>
<line x1="35.10" y1="219.30" x2="38.50" y2="219.30" stroke="#000" stroke-width="0.8"/>
<text transform="translate(31.80,223.50) scale(1.09,1)" text-anchor="end" font-size="10.7" >0.0</text>
<line x1="35.10" y1="176.30" x2="38.50" y2="176.30" stroke="#000" stroke-width="0.8"/>
<text transform="translate(31.80,180.50) scale(1.09,1)" text-anchor="end" font-size="10.7" >0.5</text>
<line x1="35.10" y1="133.30" x2="38.50" y2="133.30" stroke="#000" stroke-width="0.8"/>
<text transform="translate(31.80,137.50) scale(1.09,1)" text-anchor="end" font-size="10.7" >1.0</text>
<line x1="35.10" y1="90.30" x2="38.50" y2="90.30" stroke="#000" stroke-width="0.8"/>
<text transform="translate(31.80,94.50) scale(1.09,1)" text-anchor="end" font-size="10.7" >1.5</text>
<line x1="35.10" y1="47.30" x2="38.50" y2="47.30" stroke="#000" stroke-width="0.8"/>
<text transform="translate(31.80,51.50) scale(1.09,1)" text-anchor="end" font-size="10.7" >2.0</text>
<line x1="35.10" y1="4.30" x2="38.50" y2="4.30" stroke="#000" stroke-width="0.8"/>
<text transform="translate(31.80,8.50) scale(1.09,1)" text-anchor="end" font-size="10.7" >2.5</text>
<text x="183.50" y="246.80" text-anchor="middle" font-size="11.3" >Planet Mass (<tspan font-style="italic">M</tspan><tspan font-style="italic" font-size="7.5" dy="2.5">J</tspan><tspan dy="-2.5">)</tspan></text>
<text transform="translate(10.2,110.5) rotate(-90)" text-anchor="middle" font-size="11.3">Planet Radius (<tspan font-style="italic">R</tspan><tspan font-style="italic" font-size="7.5" dy="2.5">J</tspan><tspan dy="-2.5">)</tspan></text>
<rect x="42.2" y="8.2" width="114.5" height="84.6" rx="2" fill="#fff" fill-opacity="0.8" stroke="#d6d6d6" stroke-width="1"/>
<circle cx="55.800000000000004" cy="16.599999999999998" r="1.7" fill="#1f77b4" fill-opacity="0.5"/>
<text x="73.00" y="19.70" text-anchor="start" font-size="10.2" >Transit Discovery</text>
<circle cx="55.800000000000004" cy="30.159999999999997" r="1.6" fill="#ff7f0e"/>
<text x="73.00" y="33.26" text-anchor="start" font-size="10.2" >RV Discovery</text>
<path d="M54.00,39.22H57.60V41.92H60.30V45.52H57.60V48.22H54.00V45.52H51.30V41.92H54.00Z" fill="#ff0000"/>
<text x="73.00" y="46.82" text-anchor="start" font-size="10.2" >HD9446b</text>
<path d="M54.00,52.78H57.60V55.48H60.30V59.08H57.60V61.78H54.00V59.08H51.30V55.48H54.00Z" fill="#0000ff"/>
<text x="73.00" y="60.38" text-anchor="start" font-size="10.2" >HD9446c</text>
<path d="M54.00,66.34H57.60V69.04H60.30V72.64H57.60V75.34H54.00V72.64H51.30V69.04H54.00Z" fill="#008000"/>
<text x="73.00" y="73.94" text-anchor="start" font-size="10.2" >HD179079b</text>
<path d="M54.00,79.90H57.60V82.60H60.30V86.20H57.60V88.90H54.00V86.20H51.30V82.60H54.00Z" fill="#ffd700"/>
<text x="73.00" y="87.50" text-anchor="start" font-size="10.2" >HD43691b</text>
<g clip-path="url(#cr)">
<circle cx="476.4" cy="8.4" r="1.75" fill="#1f77b4" fill-opacity="0.58"/>
<circle cx="509.2" cy="13.2" r="1.75" fill="#1f77b4" fill-opacity="0.58"/>
<circle cx="517.0" cy="15.6" r="1.75" fill="#1f77b4" fill-opacity="0.58"/>
<circle cx="548.0" cy="16.4" r="1.75" fill="#1f77b4" fill-opacity="0.58"/>
<circle cx="551.4" cy="14.4" r="1.75" fill="#1f77b4" fill-opacity="0.58"/>
<circle cx="487.6" cy="23.6" r="1.75" fill="#1f77b4" fill-opacity="0.58"/>
<circle cx="469.6" cy="28.0" r="1.75" fill="#1f77b4" fill-opacity="0.58"/>
<circle cx="486.0" cy="30.0" r="1.75" fill="#1f77b4" fill-opacity="0.58"/>
<circle cx="492.4" cy="31.6" r="1.75" fill="#1f77b4" fill-opacity="0.58"/>
<circle cx="489.6" cy="33.6" r="1.75" fill="#1f77b4" fill-opacity="0.58"/>
<circle cx="482.0" cy="34.4" r="1.75" fill="#1f77b4" fill-opacity="0.58"/>
<circle cx="504.4" cy="28.0" r="1.75" fill="#1f77b4" fill-opacity="0.58"/>
<circle cx="509.0" cy="29.6" r="1.75" fill="#1f77b4" fill-opacity="0.58"/>
<circle cx="521.6" cy="32.4" r="1.75" fill="#1f77b4" fill-opacity="0.58"/>
<circle cx="525.6" cy="31.6" r="1.75" fill="#1f77b4" fill-opacity="0.58"/>
<circle cx="528.4" cy="28.6" r="1.75" fill="#1f77b4" fill-opacity="0.58"/>
<circle cx="543.0" cy="31.0" r="1.75" fill="#1f77b4" fill-opacity="0.58"/>
<circle cx="544.6" cy="28.0" r="1.75" fill="#1f77b4" fill-opacity="0.58"/>
<circle cx="486.6" cy="39.0" r="1.75" fill="#1f77b4" fill-opacity="0.58"/>
<circle cx="498.0" cy="37.0" r="1.75" fill="#1f77b4" fill-opacity="0.58"/>
<circle cx="500.0" cy="35.6" r="1.75" fill="#1f77b4" fill-opacity="0.58"/>
<circle cx="501.6" cy="36.0" r="1.75" fill="#1f77b4" fill-opacity="0.58"/>
<circle cx="505.0" cy="35.0" r="1.75" fill="#1f77b4" fill-opacity="0.58"/>
<circle cx="515.6" cy="36.4" r="1.75" fill="#1f77b4" fill-opacity="0.58"/>
<circle cx="535.4" cy="36.4" r="1.75" fill="#1f77b4" fill-opacity="0.58"/>
<circle cx="503.0" cy="40.0" r="1.75" fill="#1f77b4" fill-opacity="0.58"/>
<circle cx="506.4" cy="40.0" r="1.75" fill="#1f77b4" fill-opacity="0.58"/>
<circle cx="501.0" cy="42.0" r="1.75" fill="#1f77b4" fill-opacity="0.58"/>
<circle cx="516.0" cy="42.4" r="1.75" fill="#1f77b4" fill-opacity="0.58"/>
<circle cx="530.4" cy="41.6" r="1.75" fill="#1f77b4" fill-opacity="0.58"/>
<circle cx="495.0" cy="45.6" r="1.75" fill="#1f77b4" fill-opacity="0.58"/>
<circle cx="498.4" cy="46.4" r="1.75" fill="#1f77b4" fill-opacity="0.58"/>
<circle cx="504.4" cy="44.0" r="1.75" fill="#1f77b4" fill-opacity="0.58"/>
<circle cx="508.4" cy="43.6" r="1.75" fill="#1f77b4" fill-opacity="0.58"/>
<circle cx="480.0" cy="49.0" r="1.75" fill="#1f77b4" fill-opacity="0.58"/>
<circle cx="487.0" cy="49.6" r="1.75" fill="#1f77b4" fill-opacity="0.58"/>
<circle cx="491.6" cy="49.0" r="1.75" fill="#1f77b4" fill-opacity="0.58"/>
<circle cx="503.0" cy="48.0" r="1.75" fill="#1f77b4" fill-opacity="0.58"/>
<circle cx="507.6" cy="48.4" r="1.75" fill="#1f77b4" fill-opacity="0.58"/>
<circle cx="511.0" cy="47.6" r="1.75" fill="#1f77b4" fill-opacity="0.58"/>
<circle cx="516.0" cy="49.0" r="1.75" fill="#1f77b4" fill-opacity="0.58"/>
<circle cx="445.6" cy="69.0" r="1.75" fill="#1f77b4" fill-opacity="0.58"/>
<circle cx="426.0" cy="90.0" r="1.75" fill="#1f77b4" fill-opacity="0.58"/>
<circle cx="464.4" cy="74.4" r="1.75" fill="#1f77b4" fill-opacity="0.58"/>
<circle cx="538.0" cy="54.4" r="1.75" fill="#1f77b4" fill-opacity="0.58"/>
<circle cx="543.0" cy="59.6" r="1.75" fill="#1f77b4" fill-opacity="0.58"/>
<circle cx="536.0" cy="61.0" r="1.75" fill="#1f77b4" fill-opacity="0.58"/>
<circle cx="537.0" cy="65.0" r="1.75" fill="#1f77b4" fill-opacity="0.58"/>
<circle cx="540.0" cy="69.0" r="1.75" fill="#1f77b4" fill-opacity="0.58"/>
<circle cx="544.0" cy="70.0" r="1.75" fill="#1f77b4" fill-opacity="0.58"/>
<circle cx="547.0" cy="69.0" r="1.75" fill="#1f77b4" fill-opacity="0.58"/>
<circle cx="536.0" cy="72.0" r="1.75" fill="#1f77b4" fill-opacity="0.58"/>
<circle cx="545.0" cy="87.6" r="1.75" fill="#1f77b4" fill-opacity="0.58"/>
<circle cx="551.0" cy="87.0" r="1.75" fill="#1f77b4" fill-opacity="0.58"/>
<circle cx="536.0" cy="98.0" r="1.75" fill="#1f77b4" fill-opacity="0.58"/>
<circle cx="541.0" cy="101.0" r="1.75" fill="#1f77b4" fill-opacity="0.58"/>
<circle cx="545.6" cy="102.4" r="1.75" fill="#1f77b4" fill-opacity="0.58"/>
<circle cx="536.0" cy="107.0" r="1.75" fill="#1f77b4" fill-opacity="0.58"/>
<circle cx="540.0" cy="109.0" r="1.75" fill="#1f77b4" fill-opacity="0.58"/>
<circle cx="525.0" cy="126.0" r="1.75" fill="#1f77b4" fill-opacity="0.58"/>
<circle cx="536.0" cy="121.0" r="1.75" fill="#1f77b4" fill-opacity="0.58"/>
<circle cx="545.0" cy="122.0" r="1.75" fill="#1f77b4" fill-opacity="0.58"/>
<circle cx="549.0" cy="125.0" r="1.75" fill="#1f77b4" fill-opacity="0.58"/>
<circle cx="500.0" cy="127.0" r="1.75" fill="#1f77b4" fill-opacity="0.58"/>
<circle cx="502.0" cy="128.0" r="1.75" fill="#1f77b4" fill-opacity="0.58"/>
<circle cx="508.6" cy="130.0" r="1.75" fill="#1f77b4" fill-opacity="0.58"/>
<circle cx="513.0" cy="131.0" r="1.75" fill="#1f77b4" fill-opacity="0.58"/>
<circle cx="514.0" cy="129.0" r="1.75" fill="#1f77b4" fill-opacity="0.58"/>
<circle cx="533.0" cy="130.4" r="1.75" fill="#1f77b4" fill-opacity="0.58"/>
<circle cx="543.0" cy="130.0" r="1.75" fill="#1f77b4" fill-opacity="0.58"/>
<circle cx="550.0" cy="128.0" r="1.75" fill="#1f77b4" fill-opacity="0.58"/>
<circle cx="508.0" cy="133.0" r="1.75" fill="#1f77b4" fill-opacity="0.58"/>
<circle cx="519.0" cy="136.0" r="1.75" fill="#1f77b4" fill-opacity="0.58"/>
<circle cx="523.6" cy="135.6" r="1.75" fill="#1f77b4" fill-opacity="0.58"/>
<circle cx="530.0" cy="138.0" r="1.75" fill="#1f77b4" fill-opacity="0.58"/>
<circle cx="533.0" cy="137.0" r="1.75" fill="#1f77b4" fill-opacity="0.58"/>
<circle cx="538.0" cy="137.6" r="1.75" fill="#1f77b4" fill-opacity="0.58"/>
<circle cx="543.0" cy="136.0" r="1.75" fill="#1f77b4" fill-opacity="0.58"/>
<circle cx="550.0" cy="135.0" r="1.75" fill="#1f77b4" fill-opacity="0.58"/>
<circle cx="511.0" cy="139.0" r="1.75" fill="#1f77b4" fill-opacity="0.58"/>
<circle cx="529.0" cy="141.0" r="1.75" fill="#1f77b4" fill-opacity="0.58"/>
<circle cx="532.0" cy="142.0" r="1.75" fill="#1f77b4" fill-opacity="0.58"/>
<circle cx="535.0" cy="143.0" r="1.75" fill="#1f77b4" fill-opacity="0.58"/>
<circle cx="540.0" cy="140.0" r="1.75" fill="#1f77b4" fill-opacity="0.58"/>
<circle cx="545.0" cy="143.0" r="1.75" fill="#1f77b4" fill-opacity="0.58"/>
<circle cx="550.0" cy="140.0" r="1.75" fill="#1f77b4" fill-opacity="0.58"/>
<circle cx="512.0" cy="143.0" r="1.75" fill="#1f77b4" fill-opacity="0.58"/>
<circle cx="517.0" cy="145.0" r="1.75" fill="#1f77b4" fill-opacity="0.58"/>
<circle cx="522.0" cy="146.0" r="1.75" fill="#1f77b4" fill-opacity="0.58"/>
<circle cx="526.0" cy="148.0" r="1.75" fill="#1f77b4" fill-opacity="0.58"/>
<circle cx="533.0" cy="147.0" r="1.75" fill="#1f77b4" fill-opacity="0.58"/>
<circle cx="540.0" cy="145.0" r="1.75" fill="#1f77b4" fill-opacity="0.58"/>
<circle cx="544.0" cy="147.0" r="1.75" fill="#1f77b4" fill-opacity="0.58"/>
<circle cx="549.0" cy="146.0" r="1.75" fill="#1f77b4" fill-opacity="0.58"/>
<circle cx="504.4" cy="146.4" r="1.75" fill="#1f77b4" fill-opacity="0.58"/>
<circle cx="495.0" cy="145.0" r="1.75" fill="#1f77b4" fill-opacity="0.58"/>
<circle cx="501.0" cy="149.0" r="1.75" fill="#1f77b4" fill-opacity="0.58"/>
<circle cx="508.0" cy="149.0" r="1.75" fill="#1f77b4" fill-opacity="0.58"/>
<circle cx="478.4" cy="131.6" r="1.75" fill="#1f77b4" fill-opacity="0.58"/>
<circle cx="460.0" cy="144.0" r="1.75" fill="#1f77b4" fill-opacity="0.58"/>
<circle cx="437.6" cy="160.4" r="1.75" fill="#1f77b4" fill-opacity="0.58"/>
<circle cx="444.0" cy="170.0" r="1.75" fill="#1f77b4" fill-opacity="0.58"/>
<circle cx="460.4" cy="170.0" r="1.75" fill="#1f77b4" fill-opacity="0.58"/>
<circle cx="467.0" cy="170.0" r="1.75" fill="#1f77b4" fill-opacity="0.58"/>
<circle cx="466.4" cy="162.4" r="1.75" fill="#1f77b4" fill-opacity="0.58"/>
<circle cx="465.0" cy="154.4" r="1.75" fill="#1f77b4" fill-opacity="0.58"/>
<circle cx="476.0" cy="161.0" r="1.75" fill="#1f77b4" fill-opacity="0.58"/>
<circle cx="480.6" cy="165.6" r="1.75" fill="#1f77b4" fill-opacity="0.58"/>
<circle cx="482.4" cy="168.4" r="1.75" fill="#1f77b4" fill-opacity="0.58"/>
<circle cx="483.0" cy="156.0" r="1.75" fill="#1f77b4" fill-opacity="0.58"/>
<circle cx="491.6" cy="151.0" r="1.75" fill="#1f77b4" fill-opacity="0.58"/>
<circle cx="493.0" cy="155.6" r="1.75" fill="#1f77b4" fill-opacity="0.58"/>
<circle cx="494.4" cy="155.0" r="1.75" fill="#1f77b4" fill-opacity="0.58"/>
<circle cx="497.0" cy="158.0" r="1.75" fill="#1f77b4" fill-opacity="0.58"/>
<circle cx="495.0" cy="161.0" r="1.75" fill="#1f77b4" fill-opacity="0.58"/>
<circle cx="500.6" cy="154.4" r="1.75" fill="#1f77b4" fill-opacity="0.58"/>
<circle cx="504.0" cy="153.6" r="1.75" fill="#1f77b4" fill-opacity="0.58"/>
<circle cx="507.6" cy="152.4" r="1.75" fill="#1f77b4" fill-opacity="0.58"/>
<circle cx="512.0" cy="152.4" r="1.75" fill="#1f77b4" fill-opacity="0.58"/>
<circle cx="515.0" cy="151.0" r="1.75" fill="#1f77b4" fill-opacity="0.58"/>
<circle cx="521.0" cy="153.0" r="1.75" fill="#1f77b4" fill-opacity="0.58"/>
<circle cx="523.0" cy="153.6" r="1.75" fill="#1f77b4" fill-opacity="0.58"/>
<circle cx="526.0" cy="152.0" r="1.75" fill="#1f77b4" fill-opacity="0.58"/>
<circle cx="530.0" cy="153.6" r="1.75" fill="#1f77b4" fill-opacity="0.58"/>
<circle cx="533.0" cy="155.0" r="1.75" fill="#1f77b4" fill-opacity="0.58"/>
<circle cx="538.0" cy="153.6" r="1.75" fill="#1f77b4" fill-opacity="0.58"/>
<circle cx="542.0" cy="151.0" r="1.75" fill="#1f77b4" fill-opacity="0.58"/>
<circle cx="545.0" cy="151.0" r="1.75" fill="#1f77b4" fill-opacity="0.58"/>
<circle cx="546.4" cy="157.0" r="1.75" fill="#1f77b4" fill-opacity="0.58"/>
<circle cx="550.0" cy="162.0" r="1.75" fill="#1f77b4" fill-opacity="0.58"/>
<circle cx="511.6" cy="157.0" r="1.75" fill="#1f77b4" fill-opacity="0.58"/>
<circle cx="514.4" cy="158.4" r="1.75" fill="#1f77b4" fill-opacity="0.58"/>
<circle cx="519.0" cy="159.6" r="1.75" fill="#1f77b4" fill-opacity="0.58"/>
<circle cx="526.0" cy="157.0" r="1.75" fill="#1f77b4" fill-opacity="0.58"/>
<circle cx="531.6" cy="160.4" r="1.75" fill="#1f77b4" fill-opacity="0.58"/>
<circle cx="537.0" cy="160.4" r="1.75" fill="#1f77b4" fill-opacity="0.58"/>
<circle cx="540.0" cy="163.6" r="1.75" fill="#1f77b4" fill-opacity="0.58"/>
<circle cx="511.6" cy="165.0" r="1.75" fill="#1f77b4" fill-opacity="0.58"/>
<circle cx="514.0" cy="164.4" r="1.75" fill="#1f77b4" fill-opacity="0.58"/>
<circle cx="517.6" cy="164.4" r="1.75" fill="#1f77b4" fill-opacity="0.58"/>
<circle cx="525.0" cy="166.4" r="1.75" fill="#1f77b4" fill-opacity="0.58"/>
<circle cx="528.0" cy="166.0" r="1.75" fill="#1f77b4" fill-opacity="0.58"/>
<circle cx="532.0" cy="165.6" r="1.75" fill="#1f77b4" fill-opacity="0.58"/>
<circle cx="536.0" cy="164.4" r="1.75" fill="#1f77b4" fill-opacity="0.58"/>
<circle cx="538.0" cy="166.0" r="1.75" fill="#1f77b4" fill-opacity="0.58"/>
<circle cx="496.0" cy="168.0" r="1.75" fill="#1f77b4" fill-opacity="0.58"/>
<circle cx="501.6" cy="168.0" r="1.75" fill="#1f77b4" fill-opacity="0.58"/>
<circle cx="511.6" cy="170.0" r="1.75" fill="#1f77b4" fill-opacity="0.58"/>
<circle cx="511.6" cy="172.0" r="1.75" fill="#1f77b4" fill-opacity="0.58"/>
<circle cx="518.0" cy="170.0" r="1.75" fill="#1f77b4" fill-opacity="0.58"/>
<circle cx="523.0" cy="171.0" r="1.75" fill="#1f77b4" fill-opacity="0.58"/>
<circle cx="526.0" cy="172.0" r="1.75" fill="#1f77b4" fill-opacity="0.58"/>
<circle cx="538.4" cy="170.0" r="1.75" fill="#1f77b4" fill-opacity="0.58"/>
<circle cx="538.4" cy="172.4" r="1.75" fill="#1f77b4" fill-opacity="0.58"/>
<circle cx="515.0" cy="177.4" r="1.75" fill="#1f77b4" fill-opacity="0.58"/>
<circle cx="506.4" cy="181.6" r="1.75" fill="#1f77b4" fill-opacity="0.58"/>
<circle cx="532.6" cy="180.4" r="1.75" fill="#1f77b4" fill-opacity="0.58"/>
<circle cx="540.0" cy="179.6" r="1.75" fill="#1f77b4" fill-opacity="0.58"/>
<circle cx="494.0" cy="187.0" r="1.75" fill="#1f77b4" fill-opacity="0.58"/>
<circle cx="537.0" cy="187.6" r="1.75" fill="#1f77b4" fill-opacity="0.58"/>
<circle cx="481.6" cy="197.0" r="1.75" fill="#1f77b4" fill-opacity="0.58"/>
<circle cx="505.0" cy="197.0" r="1.75" fill="#1f77b4" fill-opacity="0.58"/>
<circle cx="542.4" cy="198.0" r="1.75" fill="#1f77b4" fill-opacity="0.58"/>
<circle cx="518.6" cy="203.4" r="1.75" fill="#1f77b4" fill-opacity="0.58"/>
<circle cx="529.6" cy="201.4" r="1.75" fill="#1f77b4" fill-opacity="0.58"/>
<circle cx="508.0" cy="211.6" r="1.75" fill="#1f77b4" fill-opacity="0.58"/>
<circle cx="525.0" cy="219.0" r="1.75" fill="#1f77b4" fill-opacity="0.58"/>
<circle cx="551.6" cy="195.0" r="1.75" fill="#1f77b4" fill-opacity="0.58"/>
<circle cx="561.6" cy="22.4" r="1.75" fill="#1f77b4" fill-opacity="0.58"/>
<circle cx="567.0" cy="19.6" r="1.75" fill="#1f77b4" fill-opacity="0.58"/>
<circle cx="563.6" cy="39.4" r="1.75" fill="#1f77b4" fill-opacity="0.58"/>
<circle cx="570.0" cy="44.4" r="1.75" fill="#1f77b4" fill-opacity="0.58"/>
<circle cx="575.6" cy="41.4" r="1.75" fill="#1f77b4" fill-opacity="0.58"/>
<circle cx="588.6" cy="36.6" r="1.75" fill="#1f77b4" fill-opacity="0.58"/>
<circle cx="686.6" cy="23.6" r="1.75" fill="#1f77b4" fill-opacity="0.58"/>
<circle cx="582.6" cy="57.4" r="1.75" fill="#1f77b4" fill-opacity="0.58"/>
<circle cx="579.0" cy="61.6" r="1.75" fill="#1f77b4" fill-opacity="0.58"/>
<circle cx="574.4" cy="63.4" r="1.75" fill="#1f77b4" fill-opacity="0.58"/>
<circle cx="601.0" cy="62.4" r="1.75" fill="#1f77b4" fill-opacity="0.58"/>
<circle cx="558.6" cy="67.6" r="1.75" fill="#1f77b4" fill-opacity="0.58"/>
<circle cx="588.4" cy="68.4" r="1.75" fill="#1f77b4" fill-opacity="0.58"/>
<circle cx="569.6" cy="73.6" r="1.75" fill="#1f77b4" fill-opacity="0.58"/>
<circle cx="588.4" cy="74.0" r="1.75" fill="#1f77b4" fill-opacity="0.58"/>
<circle cx="595.6" cy="75.6" r="1.75" fill="#1f77b4" fill-opacity="0.58"/>
<circle cx="598.4" cy="76.4" r="1.75" fill="#1f77b4" fill-opacity="0.58"/>
<circle cx="591.0" cy="79.6" r="1.75" fill="#1f77b4" fill-opacity="0.58"/>
<circle cx="573.0" cy="81.0" r="1.75" fill="#1f77b4" fill-opacity="0.58"/>
<circle cx="564.4" cy="85.6" r="1.75" fill="#1f77b4" fill-opacity="0.58"/>
<circle cx="553.6" cy="88.0" r="1.75" fill="#1f77b4" fill-opacity="0.58"/>
<circle cx="600.6" cy="88.6" r="1.75" fill="#1f77b4" fill-opacity="0.58"/>
<circle cx="598.0" cy="93.6" r="1.75" fill="#1f77b4" fill-opacity="0.58"/>
<circle cx="593.6" cy="95.6" r="1.75" fill="#1f77b4" fill-opacity="0.58"/>
<circle cx="614.0" cy="98.4" r="1.75" fill="#1f77b4" fill-opacity="0.58"/>
<circle cx="655.4" cy="67.4" r="1.75" fill="#1f77b4" fill-opacity="0.58"/>
<circle cx="654.0" cy="90.0" r="1.75" fill="#1f77b4" fill-opacity="0.58"/>
<circle cx="553.0" cy="98.0" r="1.75" fill="#1f77b4" fill-opacity="0.58"/>
<circle cx="570.0" cy="104.4" r="1.75" fill="#1f77b4" fill-opacity="0.58"/>
<circle cx="555.6" cy="109.6" r="1.75" fill="#1f77b4" fill-opacity="0.58"/>
<circle cx="563.0" cy="108.4" r="1.75" fill="#1f77b4" fill-opacity="0.58"/>
<circle cx="571.0" cy="111.0" r="1.75" fill="#1f77b4" fill-opacity="0.58"/>
<circle cx="581.6" cy="107.6" r="1.75" fill="#1f77b4" fill-opacity="0.58"/>
<circle cx="620.0" cy="107.0" r="1.75" fill="#1f77b4" fill-opacity="0.58"/>
<circle cx="562.0" cy="114.4" r="1.75" fill="#1f77b4" fill-opacity="0.58"/>
<circle cx="565.6" cy="114.0" r="1.75" fill="#1f77b4" fill-opacity="0.58"/>
<circle cx="553.6" cy="119.6" r="1.75" fill="#1f77b4" fill-opacity="0.58"/>
<circle cx="576.0" cy="119.6" r="1.75" fill="#1f77b4" fill-opacity="0.58"/>
<circle cx="576.4" cy="121.0" r="1.75" fill="#1f77b4" fill-opacity="0.58"/>
<circle cx="583.4" cy="118.6" r="1.75" fill="#1f77b4" fill-opacity="0.58"/>
<circle cx="597.6" cy="120.0" r="1.75" fill="#1f77b4" fill-opacity="0.58"/>
<circle cx="599.4" cy="118.0" r="1.75" fill="#1f77b4" fill-opacity="0.58"/>
<circle cx="607.6" cy="120.4" r="1.75" fill="#1f77b4" fill-opacity="0.58"/>
<circle cx="618.0" cy="121.0" r="1.75" fill="#1f77b4" fill-opacity="0.58"/>
<circle cx="620.4" cy="120.4" r="1.75" fill="#1f77b4" fill-opacity="0.58"/>
<circle cx="565.0" cy="125.0" r="1.75" fill="#1f77b4" fill-opacity="0.58"/>
<circle cx="567.6" cy="124.4" r="1.75" fill="#1f77b4" fill-opacity="0.58"/>
<circle cx="596.4" cy="127.6" r="1.75" fill="#1f77b4" fill-opacity="0.58"/>
<circle cx="601.6" cy="129.6" r="1.75" fill="#1f77b4" fill-opacity="0.58"/>
<circle cx="565.0" cy="130.0" r="1.75" fill="#1f77b4" fill-opacity="0.58"/>
<circle cx="569.6" cy="130.4" r="1.75" fill="#1f77b4" fill-opacity="0.58"/>
<circle cx="552.0" cy="131.0" r="1.75" fill="#1f77b4" fill-opacity="0.58"/>
<circle cx="561.6" cy="136.0" r="1.75" fill="#1f77b4" fill-opacity="0.58"/>
<circle cx="557.0" cy="138.4" r="1.75" fill="#1f77b4" fill-opacity="0.58"/>
<circle cx="575.0" cy="140.0" r="1.75" fill="#1f77b4" fill-opacity="0.58"/>
<circle cx="577.6" cy="138.0" r="1.75" fill="#1f77b4" fill-opacity="0.58"/>
<circle cx="568.0" cy="137.0" r="1.75" fill="#1f77b4" fill-opacity="0.58"/>
<circle cx="552.0" cy="137.0" r="1.75" fill="#1f77b4" fill-opacity="0.58"/>
<circle cx="558.0" cy="142.4" r="1.75" fill="#1f77b4" fill-opacity="0.58"/>
<circle cx="560.4" cy="144.0" r="1.75" fill="#1f77b4" fill-opacity="0.58"/>
<circle cx="567.6" cy="142.4" r="1.75" fill="#1f77b4" fill-opacity="0.58"/>
<circle cx="571.0" cy="144.0" r="1.75" fill="#1f77b4" fill-opacity="0.58"/>
<circle cx="554.4" cy="148.0" r="1.75" fill="#1f77b4" fill-opacity="0.58"/>
<circle cx="562.0" cy="148.4" r="1.75" fill="#1f77b4" fill-opacity="0.58"/>
<circle cx="593.6" cy="138.0" r="1.75" fill="#1f77b4" fill-opacity="0.58"/>
<circle cx="589.0" cy="135.0" r="1.75" fill="#1f77b4" fill-opacity="0.58"/>
<circle cx="586.0" cy="146.0" r="1.75" fill="#1f77b4" fill-opacity="0.58"/>
<circle cx="554.0" cy="153.0" r="1.75" fill="#1f77b4" fill-opacity="0.58"/>
<circle cx="558.0" cy="152.0" r="1.75" fill="#1f77b4" fill-opacity="0.58"/>
<circle cx="561.0" cy="151.0" r="1.75" fill="#1f77b4" fill-opacity="0.58"/>
<circle cx="564.0" cy="152.4" r="1.75" fill="#1f77b4" fill-opacity="0.58"/>
<circle cx="571.0" cy="151.0" r="1.75" fill="#1f77b4" fill-opacity="0.58"/>
<circle cx="574.0" cy="152.4" r="1.75" fill="#1f77b4" fill-opacity="0.58"/>
<circle cx="558.0" cy="157.0" r="1.75" fill="#1f77b4" fill-opacity="0.58"/>
<circle cx="558.0" cy="159.6" r="1.75" fill="#1f77b4" fill-opacity="0.58"/>
<circle cx="575.0" cy="157.0" r="1.75" fill="#1f77b4" fill-opacity="0.58"/>
<circle cx="565.0" cy="171.0" r="1.75" fill="#1f77b4" fill-opacity="0.58"/>
<circle cx="571.0" cy="177.0" r="1.75" fill="#1f77b4" fill-opacity="0.58"/>
<circle cx="573.0" cy="179.6" r="1.75" fill="#1f77b4" fill-opacity="0.58"/>
<circle cx="566.0" cy="180.4" r="1.75" fill="#1f77b4" fill-opacity="0.58"/>
<circle cx="553.6" cy="195.6" r="1.75" fill="#1f77b4" fill-opacity="0.58"/>
<circle cx="598.0" cy="152.4" r="1.75" fill="#1f77b4" fill-opacity="0.58"/>
<circle cx="582.0" cy="164.4" r="1.75" fill="#1f77b4" fill-opacity="0.58"/>
<circle cx="553.6" cy="202.4" r="1.75" fill="#1f77b4" fill-opacity="0.58"/>
<circle cx="480.0" cy="50.5" r="1.75" fill="#1f77b4" fill-opacity="0.58"/>
<circle cx="486.5" cy="51.0" r="1.75" fill="#1f77b4" fill-opacity="0.58"/>
<circle cx="494.0" cy="52.0" r="1.75" fill="#1f77b4" fill-opacity="0.58"/>
<circle cx="498.0" cy="51.0" r="1.75" fill="#1f77b4" fill-opacity="0.58"/>
<circle cx="501.0" cy="52.0" r="1.75" fill="#1f77b4" fill-opacity="0.58"/>
<circle cx="504.0" cy="50.5" r="1.75" fill="#1f77b4" fill-opacity="0.58"/>
<circle cx="512.0" cy="51.0" r="1.75" fill="#1f77b4" fill-opacity="0.58"/>
<circle cx="522.0" cy="50.5" r="1.75" fill="#1f77b4" fill-opacity="0.58"/>
<circle cx="525.0" cy="51.5" r="1.75" fill="#1f77b4" fill-opacity="0.58"/>
<circle cx="470.5" cy="55.2" r="1.75" fill="#1f77b4" fill-opacity="0.58"/>
<circle cx="481.5" cy="54.5" r="1.75" fill="#1f77b4" fill-opacity="0.58"/>
<circle cx="489.0" cy="54.0" r="1.75" fill="#1f77b4" fill-opacity="0.58"/>
<circle cx="493.0" cy="56.0" r="1.75" fill="#1f77b4" fill-opacity="0.58"/>
<circle cx="500.0" cy="54.5" r="1.75" fill="#1f77b4" fill-opacity="0.58"/>
<circle cx="503.5" cy="55.0" r="1.75" fill="#1f77b4" fill-opacity="0.58"/>
<circle cx="506.0" cy="54.5" r="1.75" fill="#1f77b4" fill-opacity="0.58"/>
<circle cx="509.0" cy="55.0" r="1.75" fill="#1f77b4" fill-opacity="0.58"/>
<circle cx="512.0" cy="56.0" r="1.75" fill="#1f77b4" fill-opacity="0.58"/>
<circle cx="515.0" cy="55.5" r="1.75" fill="#1f77b4" fill-opacity="0.58"/>
<circle cx="519.0" cy="53.5" r="1.75" fill="#1f77b4" fill-opacity="0.58"/>
<circle cx="528.5" cy="54.0" r="1.75" fill="#1f77b4" fill-opacity="0.58"/>
<circle cx="534.0" cy="56.0" r="1.75" fill="#1f77b4" fill-opacity="0.58"/>
<circle cx="479.0" cy="57.5" r="1.75" fill="#1f77b4" fill-opacity="0.58"/>
<circle cx="482.0" cy="58.5" r="1.75" fill="#1f77b4" fill-opacity="0.58"/>
<circle cx="485.0" cy="57.5" r="1.75" fill="#1f77b4" fill-opacity="0.58"/>
<circle cx="487.5" cy="59.5" r="1.75" fill="#1f77b4" fill-opacity="0.58"/>
<circle cx="492.0" cy="58.0" r="1.75" fill="#1f77b4" fill-opacity="0.58"/>
<circle cx="497.5" cy="59.0" r="1.75" fill="#1f77b4" fill-opacity="0.58"/>
<circle cx="501.0" cy="58.0" r="1.75" fill="#1f77b4" fill-opacity="0.58"/>
<circle cx="504.5" cy="57.0" r="1.75" fill="#1f77b4" fill-opacity="0.58"/>
<circle cx="506.5" cy="59.0" r="1.75" fill="#1f77b4" fill-opacity="0.58"/>
<circle cx="509.0" cy="58.0" r="1.75" fill="#1f77b4" fill-opacity="0.58"/>
<circle cx="513.0" cy="59.5" r="1.75" fill="#1f77b4" fill-opacity="0.58"/>
<circle cx="517.0" cy="57.5" r="1.75" fill="#1f77b4" fill-opacity="0.58"/>
<circle cx="522.0" cy="60.0" r="1.75" fill="#1f77b4" fill-opacity="0.58"/>
<circle cx="526.5" cy="57.0" r="1.75" fill="#1f77b4" fill-opacity="0.58"/>
<circle cx="477.0" cy="60.5" r="1.75" fill="#1f77b4" fill-opacity="0.58"/>
<circle cx="480.0" cy="59.5" r="1.75" fill="#1f77b4" fill-opacity="0.58"/>
<circle cx="486.0" cy="60.0" r="1.75" fill="#1f77b4" fill-opacity="0.58"/>
<circle cx="489.0" cy="60.0" r="1.75" fill="#1f77b4" fill-opacity="0.58"/>
<circle cx="499.0" cy="60.0" r="1.75" fill="#1f77b4" fill-opacity="0.58"/>
<circle cx="503.0" cy="61.0" r="1.75" fill="#1f77b4" fill-opacity="0.58"/>
<circle cx="511.0" cy="60.0" r="1.75" fill="#1f77b4" fill-opacity="0.58"/>
<circle cx="533.5" cy="62.0" r="1.75" fill="#1f77b4" fill-opacity="0.58"/>
<circle cx="466.5" cy="62.5" r="1.75" fill="#1f77b4" fill-opacity="0.58"/>
<circle cx="478.0" cy="63.0" r="1.75" fill="#1f77b4" fill-opacity="0.58"/>
<circle cx="481.0" cy="64.0" r="1.75" fill="#1f77b4" fill-opacity="0.58"/>
<circle cx="483.0" cy="62.5" r="1.75" fill="#1f77b4" fill-opacity="0.58"/>
<circle cx="490.0" cy="63.0" r="1.75" fill="#1f77b4" fill-opacity="0.58"/>
<circle cx="492.0" cy="63.5" r="1.75" fill="#1f77b4" fill-opacity="0.58"/>
<circle cx="497.0" cy="62.5" r="1.75" fill="#1f77b4" fill-opacity="0.58"/>
<circle cx="500.0" cy="63.5" r="1.75" fill="#1f77b4" fill-opacity="0.58"/>
<circle cx="503.5" cy="62.5" r="1.75" fill="#1f77b4" fill-opacity="0.58"/>
<circle cx="507.0" cy="64.0" r="1.75" fill="#1f77b4" fill-opacity="0.58"/>
<circle cx="525.0" cy="63.0" r="1.75" fill="#1f77b4" fill-opacity="0.58"/>
<circle cx="527.5" cy="64.0" r="1.75" fill="#1f77b4" fill-opacity="0.58"/>
<circle cx="531.0" cy="63.0" r="1.75" fill="#1f77b4" fill-opacity="0.58"/>
<circle cx="469.0" cy="68.0" r="1.75" fill="#1f77b4" fill-opacity="0.58"/>
<circle cx="474.0" cy="67.5" r="1.75" fill="#1f77b4" fill-opacity="0.58"/>
<circle cx="478.0" cy="66.5" r="1.75" fill="#1f77b4" fill-opacity="0.58"/>
<circle cx="481.0" cy="68.0" r="1.75" fill="#1f77b4" fill-opacity="0.58"/>
<circle cx="483.5" cy="67.5" r="1.75" fill="#1f77b4" fill-opacity="0.58"/>
<circle cx="488.0" cy="68.0" r="1.75" fill="#1f77b4" fill-opacity="0.58"/>
<circle cx="490.5" cy="66.5" r="1.75" fill="#1f77b4" fill-opacity="0.58"/>
<circle cx="492.5" cy="69.0" r="1.75" fill="#1f77b4" fill-opacity="0.58"/>
<circle cx="495.0" cy="67.5" r="1.75" fill="#1f77b4" fill-opacity="0.58"/>
<circle cx="498.0" cy="68.5" r="1.75" fill="#1f77b4" fill-opacity="0.58"/>
<circle cx="501.0" cy="68.0" r="1.75" fill="#1f77b4" fill-opacity="0.58"/>
<circle cx="503.5" cy="69.0" r="1.75" fill="#1f77b4" fill-opacity="0.58"/>
<circle cx="506.0" cy="67.5" r="1.75" fill="#1f77b4" fill-opacity="0.58"/>
<circle cx="508.5" cy="65.5" r="1.75" fill="#1f77b4" fill-opacity="0.58"/>
<circle cx="514.0" cy="67.5" r="1.75" fill="#1f77b4" fill-opacity="0.58"/>
<circle cx="517.0" cy="67.5" r="1.75" fill="#1f77b4" fill-opacity="0.58"/>
<circle cx="524.5" cy="68.5" r="1.75" fill="#1f77b4" fill-opacity="0.58"/>
<circle cx="529.0" cy="66.0" r="1.75" fill="#1f77b4" fill-opacity="0.58"/>
<circle cx="531.5" cy="68.0" r="1.75" fill="#1f77b4" fill-opacity="0.58"/>
<circle cx="466.0" cy="71.0" r="1.75" fill="#1f77b4" fill-opacity="0.58"/>
<circle cx="467.5" cy="72.5" r="1.75" fill="#1f77b4" fill-opacity="0.58"/>
<circle cx="471.5" cy="74.0" r="1.75" fill="#1f77b4" fill-opacity="0.58"/>
<circle cx="475.0" cy="71.0" r="1.75" fill="#1f77b4" fill-opacity="0.58"/>
<circle cx="477.5" cy="70.5" r="1.75" fill="#1f77b4" fill-opacity="0.58"/>
<circle cx="480.0" cy="71.5" r="1.75" fill="#1f77b4" fill-opacity="0.58"/>
<circle cx="482.5" cy="73.0" r="1.75" fill="#1f77b4" fill-opacity="0.58"/>
<circle cx="485.0" cy="71.0" r="1.75" fill="#1f77b4" fill-opacity="0.58"/>
<circle cx="487.0" cy="74.0" r="1.75" fill="#1f77b4" fill-opacity="0.58"/>
<circle cx="489.0" cy="70.0" r="1.75" fill="#1f77b4" fill-opacity="0.58"/>
<circle cx="491.0" cy="72.5" r="1.75" fill="#1f77b4" fill-opacity="0.58"/>
<circle cx="494.0" cy="70.5" r="1.75" fill="#1f77b4" fill-opacity="0.58"/>
<circle cx="496.0" cy="73.0" r="1.75" fill="#1f77b4" fill-opacity="0.58"/>
<circle cx="498.0" cy="70.5" r="1.75" fill="#1f77b4" fill-opacity="0.58"/>
<circle cx="500.0" cy="71.5" r="1.75" fill="#1f77b4" fill-opacity="0.58"/>
<circle cx="502.5" cy="73.5" r="1.75" fill="#1f77b4" fill-opacity="0.58"/>
<circle cx="505.5" cy="71.5" r="1.75" fill="#1f77b4" fill-opacity="0.58"/>
<circle cx="508.0" cy="70.0" r="1.75" fill="#1f77b4" fill-opacity="0.58"/>
<circle cx="509.0" cy="73.0" r="1.75" fill="#1f77b4" fill-opacity="0.58"/>
<circle cx="512.0" cy="74.0" r="1.75" fill="#1f77b4" fill-opacity="0.58"/>
<circle cx="504.0" cy="74.5" r="1.75" fill="#1f77b4" fill-opacity="0.58"/>
<circle cx="525.0" cy="70.5" r="1.75" fill="#1f77b4" fill-opacity="0.58"/>
<circle cx="465.5" cy="75.5" r="1.75" fill="#1f77b4" fill-opacity="0.58"/>
<circle cx="482.0" cy="75.5" r="1.75" fill="#1f77b4" fill-opacity="0.58"/>
<circle cx="486.0" cy="78.0" r="1.75" fill="#1f77b4" fill-opacity="0.58"/>
<circle cx="484.0" cy="82.0" r="1.75" fill="#1f77b4" fill-opacity="0.58"/>
<circle cx="487.5" cy="87.5" r="1.75" fill="#1f77b4" fill-opacity="0.58"/>
<circle cx="486.0" cy="91.5" r="1.75" fill="#1f77b4" fill-opacity="0.58"/>
<circle cx="492.5" cy="92.5" r="1.75" fill="#1f77b4" fill-opacity="0.58"/>
<circle cx="492.0" cy="87.5" r="1.75" fill="#1f77b4" fill-opacity="0.58"/>
<circle cx="490.5" cy="77.0" r="1.75" fill="#1f77b4" fill-opacity="0.58"/>
<circle cx="492.5" cy="79.0" r="1.75" fill="#1f77b4" fill-opacity="0.58"/>
<circle cx="495.0" cy="76.5" r="1.75" fill="#1f77b4" fill-opacity="0.58"/>
<circle cx="497.0" cy="79.0" r="1.75" fill="#1f77b4" fill-opacity="0.58"/>
<circle cx="499.0" cy="77.0" r="1.75" fill="#1f77b4" fill-opacity="0.58"/>
<circle cx="501.0" cy="78.5" r="1.75" fill="#1f77b4" fill-opacity="0.58"/>
<circle cx="503.5" cy="76.5" r="1.75" fill="#1f77b4" fill-opacity="0.58"/>
<circle cx="506.0" cy="78.0" r="1.75" fill="#1f77b4" fill-opacity="0.58"/>
<circle cx="509.0" cy="76.5" r="1.75" fill="#1f77b4" fill-opacity="0.58"/>
<circle cx="513.0" cy="76.5" r="1.75" fill="#1f77b4" fill-opacity="0.58"/>
<circle cx="515.0" cy="78.0" r="1.75" fill="#1f77b4" fill-opacity="0.58"/>
<circle cx="517.0" cy="76.5" r="1.75" fill="#1f77b4" fill-opacity="0.58"/>
<circle cx="491.0" cy="81.0" r="1.75" fill="#1f77b4" fill-opacity="0.58"/>
<circle cx="493.5" cy="82.5" r="1.75" fill="#1f77b4" fill-opacity="0.58"/>
<circle cx="496.0" cy="81.5" r="1.75" fill="#1f77b4" fill-opacity="0.58"/>
<circle cx="498.0" cy="83.5" r="1.75" fill="#1f77b4" fill-opacity="0.58"/>
<circle cx="500.5" cy="81.5" r="1.75" fill="#1f77b4" fill-opacity="0.58"/>
<circle cx="502.5" cy="84.0" r="1.75" fill="#1f77b4" fill-opacity="0.58"/>
<circle cx="506.0" cy="83.0" r="1.75" fill="#1f77b4" fill-opacity="0.58"/>
<circle cx="508.0" cy="84.5" r="1.75" fill="#1f77b4" fill-opacity="0.58"/>
<circle cx="510.5" cy="82.0" r="1.75" fill="#1f77b4" fill-opacity="0.58"/>
<circle cx="513.0" cy="83.5" r="1.75" fill="#1f77b4" fill-opacity="0.58"/>
<circle cx="515.5" cy="80.5" r="1.75" fill="#1f77b4" fill-opacity="0.58"/>
<circle cx="518.0" cy="80.0" r="1.75" fill="#1f77b4" fill-opacity="0.58"/>
<circle cx="519.5" cy="81.0" r="1.75" fill="#1f77b4" fill-opacity="0.58"/>
<circle cx="495.0" cy="85.5" r="1.75" fill="#1f77b4" fill-opacity="0.58"/>
<circle cx="498.0" cy="87.0" r="1.75" fill="#1f77b4" fill-opacity="0.58"/>
<circle cx="500.5" cy="86.0" r="1.75" fill="#1f77b4" fill-opacity="0.58"/>
<circle cx="503.0" cy="87.5" r="1.75" fill="#1f77b4" fill-opacity="0.58"/>
<circle cx="505.0" cy="86.0" r="1.75" fill="#1f77b4" fill-opacity="0.58"/>
<circle cx="507.0" cy="88.0" r="1.75" fill="#1f77b4" fill-opacity="0.58"/>
<circle cx="509.5" cy="86.5" r="1.75" fill="#1f77b4" fill-opacity="0.58"/>
<circle cx="512.0" cy="87.5" r="1.75" fill="#1f77b4" fill-opacity="0.58"/>
<circle cx="514.5" cy="86.0" r="1.75" fill="#1f77b4" fill-opacity="0.58"/>
<circle cx="516.0" cy="88.0" r="1.75" fill="#1f77b4" fill-opacity="0.58"/>
<circle cx="494.0" cy="89.0" r="1.75" fill="#1f77b4" fill-opacity="0.58"/>
<circle cx="497.0" cy="90.0" r="1.75" fill="#1f77b4" fill-opacity="0.58"/>
<circle cx="499.5" cy="89.0" r="1.75" fill="#1f77b4" fill-opacity="0.58"/>
<circle cx="502.0" cy="90.5" r="1.75" fill="#1f77b4" fill-opacity="0.58"/>
<circle cx="504.5" cy="89.5" r="1.75" fill="#1f77b4" fill-opacity="0.58"/>
<circle cx="507.0" cy="91.0" r="1.75" fill="#1f77b4" fill-opacity="0.58"/>
<circle cx="509.0" cy="89.5" r="1.75" fill="#1f77b4" fill-opacity="0.58"/>
<circle cx="511.5" cy="91.5" r="1.75" fill="#1f77b4" fill-opacity="0.58"/>
<circle cx="514.0" cy="90.0" r="1.75" fill="#1f77b4" fill-opacity="0.58"/>
<circle cx="516.0" cy="91.5" r="1.75" fill="#1f77b4" fill-opacity="0.58"/>
<circle cx="501.0" cy="93.5" r="1.75" fill="#1f77b4" fill-opacity="0.58"/>
<circle cx="503.5" cy="95.0" r="1.75" fill="#1f77b4" fill-opacity="0.58"/>
<circle cx="506.0" cy="93.5" r="1.75" fill="#1f77b4" fill-opacity="0.58"/>
<circle cx="508.0" cy="95.5" r="1.75" fill="#1f77b4" fill-opacity="0.58"/>
<circle cx="510.5" cy="94.0" r="1.75" fill="#1f77b4" fill-opacity="0.58"/>
<circle cx="513.0" cy="95.5" r="1.75" fill="#1f77b4" fill-opacity="0.58"/>
<circle cx="515.0" cy="93.5" r="1.75" fill="#1f77b4" fill-opacity="0.58"/>
<circle cx="505.0" cy="98.0" r="1.75" fill="#1f77b4" fill-opacity="0.58"/>
<circle cx="508.0" cy="99.0" r="1.75" fill="#1f77b4" fill-opacity="0.58"/>
<circle cx="510.5" cy="97.5" r="1.75" fill="#1f77b4" fill-opacity="0.58"/>
<circle cx="513.0" cy="99.0" r="1.75" fill="#1f77b4" fill-opacity="0.58"/>
<circle cx="523.0" cy="79.0" r="1.75" fill="#1f77b4" fill-opacity="0.58"/>
<circle cx="526.0" cy="78.5" r="1.75" fill="#1f77b4" fill-opacity="0.58"/>
<circle cx="529.0" cy="77.5" r="1.75" fill="#1f77b4" fill-opacity="0.58"/>
<circle cx="531.0" cy="76.0" r="1.75" fill="#1f77b4" fill-opacity="0.58"/>
<circle cx="524.5" cy="85.0" r="1.75" fill="#1f77b4" fill-opacity="0.58"/>
<circle cx="527.5" cy="83.0" r="1.75" fill="#1f77b4" fill-opacity="0.58"/>
<circle cx="529.0" cy="82.5" r="1.75" fill="#1f77b4" fill-opacity="0.58"/>
<circle cx="532.5" cy="84.0" r="1.75" fill="#1f77b4" fill-opacity="0.58"/>
<circle cx="533.0" cy="87.0" r="1.75" fill="#1f77b4" fill-opacity="0.58"/>
<circle cx="525.0" cy="89.0" r="1.75" fill="#1f77b4" fill-opacity="0.58"/>
<circle cx="528.0" cy="90.0" r="1.75" fill="#1f77b4" fill-opacity="0.58"/>
<circle cx="522.5" cy="94.0" r="1.75" fill="#1f77b4" fill-opacity="0.58"/>
<circle cx="525.0" cy="93.0" r="1.75" fill="#1f77b4" fill-opacity="0.58"/>
<circle cx="530.0" cy="95.0" r="1.75" fill="#1f77b4" fill-opacity="0.58"/>
<circle cx="534.0" cy="94.0" r="1.75" fill="#1f77b4" fill-opacity="0.58"/>
<circle cx="533.5" cy="98.0" r="1.75" fill="#1f77b4" fill-opacity="0.58"/>
<circle cx="507.0" cy="101.5" r="1.75" fill="#1f77b4" fill-opacity="0.58"/>
<circle cx="509.0" cy="101.0" r="1.75" fill="#1f77b4" fill-opacity="0.58"/>
<circle cx="511.0" cy="102.0" r="1.75" fill="#1f77b4" fill-opacity="0.58"/>
<circle cx="512.5" cy="101.0" r="1.75" fill="#1f77b4" fill-opacity="0.58"/>
<circle cx="514.0" cy="102.5" r="1.75" fill="#1f77b4" fill-opacity="0.58"/>
<circle cx="508.0" cy="103.0" r="1.75" fill="#1f77b4" fill-opacity="0.58"/>
<circle cx="510.5" cy="103.5" r="1.75" fill="#1f77b4" fill-opacity="0.58"/>
<circle cx="502.5" cy="101.5" r="1.75" fill="#1f77b4" fill-opacity="0.58"/>
<circle cx="506.0" cy="104.5" r="1.75" fill="#1f77b4" fill-opacity="0.58"/>
<circle cx="512.0" cy="105.0" r="1.75" fill="#1f77b4" fill-opacity="0.58"/>
<circle cx="515.5" cy="103.0" r="1.75" fill="#1f77b4" fill-opacity="0.58"/>
<circle cx="502.5" cy="106.5" r="1.75" fill="#1f77b4" fill-opacity="0.58"/>
<circle cx="507.5" cy="106.5" r="1.75" fill="#1f77b4" fill-opacity="0.58"/>
<circle cx="519.0" cy="107.0" r="1.75" fill="#1f77b4" fill-opacity="0.58"/>
<circle cx="516.0" cy="109.5" r="1.75" fill="#1f77b4" fill-opacity="0.58"/>
<circle cx="508.5" cy="110.8" r="1.75" fill="#1f77b4" fill-opacity="0.58"/>
<circle cx="512.0" cy="112.0" r="1.75" fill="#1f77b4" fill-opacity="0.58"/>
<circle cx="502.5" cy="110.5" r="1.75" fill="#1f77b4" fill-opacity="0.58"/>
<circle cx="503.5" cy="113.0" r="1.75" fill="#1f77b4" fill-opacity="0.58"/>
<circle cx="503.5" cy="115.0" r="1.75" fill="#1f77b4" fill-opacity="0.58"/>
<circle cx="506.0" cy="117.5" r="1.75" fill="#1f77b4" fill-opacity="0.58"/>
<circle cx="501.5" cy="119.0" r="1.75" fill="#1f77b4" fill-opacity="0.58"/>
<circle cx="521.5" cy="114.5" r="1.75" fill="#1f77b4" fill-opacity="0.58"/>
<circle cx="494.4" cy="68.9" r="1.75" fill="#1f77b4" fill-opacity="0.58"/>
<circle cx="505.9" cy="81.5" r="1.75" fill="#1f77b4" fill-opacity="0.58"/>
<circle cx="498.1" cy="80.0" r="1.75" fill="#1f77b4" fill-opacity="0.58"/>
<circle cx="480.8" cy="61.9" r="1.75" fill="#1f77b4" fill-opacity="0.58"/>
<circle cx="481.2" cy="60.2" r="1.75" fill="#1f77b4" fill-opacity="0.58"/>
<circle cx="487.9" cy="80.5" r="1.75" fill="#1f77b4" fill-opacity="0.58"/>
<circle cx="487.0" cy="61.5" r="1.75" fill="#1f77b4" fill-opacity="0.58"/>
<circle cx="492.7" cy="90.2" r="1.75" fill="#1f77b4" fill-opacity="0.58"/>
<circle cx="498.9" cy="82.0" r="1.75" fill="#1f77b4" fill-opacity="0.58"/>
<circle cx="509.4" cy="92.4" r="1.75" fill="#1f77b4" fill-opacity="0.58"/>
<circle cx="484.4" cy="75.6" r="1.75" fill="#1f77b4" fill-opacity="0.58"/>
<circle cx="483.7" cy="67.8" r="1.75" fill="#1f77b4" fill-opacity="0.58"/>
<circle cx="501.2" cy="84.3" r="1.75" fill="#1f77b4" fill-opacity="0.58"/>
<circle cx="502.7" cy="77.2" r="1.75" fill="#1f77b4" fill-opacity="0.58"/>
<circle cx="501.8" cy="86.6" r="1.75" fill="#1f77b4" fill-opacity="0.58"/>
<circle cx="487.9" cy="73.3" r="1.75" fill="#1f77b4" fill-opacity="0.58"/>
<circle cx="496.4" cy="75.9" r="1.75" fill="#1f77b4" fill-opacity="0.58"/>
<circle cx="501.5" cy="94.3" r="1.75" fill="#1f77b4" fill-opacity="0.58"/>
<circle cx="485.8" cy="70.3" r="1.75" fill="#1f77b4" fill-opacity="0.58"/>
<circle cx="490.5" cy="85.2" r="1.75" fill="#1f77b4" fill-opacity="0.58"/>
<circle cx="505.3" cy="87.1" r="1.75" fill="#1f77b4" fill-opacity="0.58"/>
<circle cx="488.7" cy="79.5" r="1.75" fill="#1f77b4" fill-opacity="0.58"/>
<circle cx="484.1" cy="65.6" r="1.75" fill="#1f77b4" fill-opacity="0.58"/>
<circle cx="478.0" cy="62.9" r="1.75" fill="#1f77b4" fill-opacity="0.58"/>
<circle cx="502.4" cy="91.7" r="1.75" fill="#1f77b4" fill-opacity="0.58"/>
<circle cx="509.6" cy="93.4" r="1.75" fill="#1f77b4" fill-opacity="0.58"/>
<circle cx="499.9" cy="89.1" r="1.75" fill="#1f77b4" fill-opacity="0.58"/>
<circle cx="498.2" cy="82.8" r="1.75" fill="#1f77b4" fill-opacity="0.58"/>
<circle cx="491.8" cy="80.7" r="1.75" fill="#1f77b4" fill-opacity="0.58"/>
<circle cx="478.2" cy="64.1" r="1.75" fill="#1f77b4" fill-opacity="0.58"/>
<circle cx="508.3" cy="90.9" r="1.75" fill="#1f77b4" fill-opacity="0.58"/>
<circle cx="489.0" cy="77.2" r="1.75" fill="#1f77b4" fill-opacity="0.58"/>
<circle cx="480.4" cy="59.9" r="1.75" fill="#1f77b4" fill-opacity="0.58"/>
<circle cx="486.8" cy="62.0" r="1.75" fill="#1f77b4" fill-opacity="0.58"/>
<circle cx="486.2" cy="79.6" r="1.75" fill="#1f77b4" fill-opacity="0.58"/>
<circle cx="482.4" cy="62.2" r="1.75" fill="#1f77b4" fill-opacity="0.58"/>
<circle cx="491.1" cy="86.3" r="1.75" fill="#1f77b4" fill-opacity="0.58"/>
<circle cx="500.0" cy="97.1" r="1.75" fill="#1f77b4" fill-opacity="0.58"/>
<circle cx="489.2" cy="70.0" r="1.75" fill="#1f77b4" fill-opacity="0.58"/>
<circle cx="485.0" cy="78.4" r="1.75" fill="#1f77b4" fill-opacity="0.58"/>
<circle cx="488.5" cy="63.7" r="1.75" fill="#1f77b4" fill-opacity="0.58"/>
<circle cx="486.7" cy="68.9" r="1.75" fill="#1f77b4" fill-opacity="0.58"/>
<circle cx="501.2" cy="81.1" r="1.75" fill="#1f77b4" fill-opacity="0.58"/>
<circle cx="489.9" cy="75.4" r="1.75" fill="#1f77b4" fill-opacity="0.58"/>
<circle cx="506.7" cy="100.7" r="1.75" fill="#1f77b4" fill-opacity="0.58"/>
<circle cx="493.8" cy="81.9" r="1.75" fill="#1f77b4" fill-opacity="0.58"/>
<circle cx="507.0" cy="82.3" r="1.75" fill="#1f77b4" fill-opacity="0.58"/>
<circle cx="503.7" cy="99.5" r="1.75" fill="#1f77b4" fill-opacity="0.58"/>
<circle cx="502.7" cy="98.7" r="1.75" fill="#1f77b4" fill-opacity="0.58"/>
<circle cx="493.0" cy="74.5" r="1.75" fill="#1f77b4" fill-opacity="0.58"/>
<circle cx="480.5" cy="65.2" r="1.75" fill="#1f77b4" fill-opacity="0.58"/>
<circle cx="490.5" cy="64.3" r="1.75" fill="#1f77b4" fill-opacity="0.58"/>
<circle cx="496.3" cy="68.5" r="1.75" fill="#1f77b4" fill-opacity="0.58"/>
<circle cx="484.3" cy="62.1" r="1.75" fill="#1f77b4" fill-opacity="0.58"/>
<circle cx="503.6" cy="80.8" r="1.75" fill="#1f77b4" fill-opacity="0.58"/>
<circle cx="489.3" cy="68.1" r="1.75" fill="#1f77b4" fill-opacity="0.58"/>
<circle cx="496.1" cy="70.3" r="1.75" fill="#1f77b4" fill-opacity="0.58"/>
<circle cx="494.1" cy="78.4" r="1.75" fill="#1f77b4" fill-opacity="0.58"/>
<circle cx="493.3" cy="70.9" r="1.75" fill="#1f77b4" fill-opacity="0.58"/>
<circle cx="510.3" cy="89.8" r="1.75" fill="#1f77b4" fill-opacity="0.58"/>
<circle cx="500.9" cy="77.3" r="1.75" fill="#1f77b4" fill-opacity="0.58"/>
<circle cx="503.1" cy="76.6" r="1.75" fill="#1f77b4" fill-opacity="0.58"/>
<circle cx="489.1" cy="86.4" r="1.75" fill="#1f77b4" fill-opacity="0.58"/>
<circle cx="503.8" cy="97.1" r="1.75" fill="#1f77b4" fill-opacity="0.58"/>
<circle cx="489.3" cy="68.7" r="1.75" fill="#1f77b4" fill-opacity="0.58"/>
<circle cx="480.5" cy="69.3" r="1.75" fill="#1f77b4" fill-opacity="0.58"/>
<circle cx="492.1" cy="84.4" r="1.75" fill="#1f77b4" fill-opacity="0.58"/>
<circle cx="493.5" cy="69.9" r="1.75" fill="#1f77b4" fill-opacity="0.58"/>
<circle cx="501.9" cy="97.9" r="1.75" fill="#1f77b4" fill-opacity="0.58"/>
<circle cx="501.7" cy="95.7" r="1.75" fill="#1f77b4" fill-opacity="0.58"/>
<circle cx="498.6" cy="76.1" r="1.75" fill="#1f77b4" fill-opacity="0.58"/>
<circle cx="501.8" cy="77.4" r="1.75" fill="#1f77b4" fill-opacity="0.58"/>
<circle cx="495.6" cy="83.9" r="1.75" fill="#1f77b4" fill-opacity="0.58"/>
<circle cx="500.2" cy="78.2" r="1.75" fill="#1f77b4" fill-opacity="0.58"/>
<circle cx="506.2" cy="95.6" r="1.75" fill="#1f77b4" fill-opacity="0.58"/>
<circle cx="501.9" cy="77.4" r="1.75" fill="#1f77b4" fill-opacity="0.58"/>
<circle cx="508.9" cy="91.4" r="1.75" fill="#1f77b4" fill-opacity="0.58"/>
<circle cx="505.3" cy="78.1" r="1.75" fill="#1f77b4" fill-opacity="0.58"/>
<circle cx="496.3" cy="76.6" r="1.75" fill="#1f77b4" fill-opacity="0.58"/>
<circle cx="498.2" cy="80.5" r="1.75" fill="#1f77b4" fill-opacity="0.58"/>
<circle cx="501.8" cy="82.6" r="1.75" fill="#1f77b4" fill-opacity="0.58"/>
<circle cx="509.6" cy="97.0" r="1.75" fill="#1f77b4" fill-opacity="0.58"/>
<circle cx="499.6" cy="90.4" r="1.75" fill="#1f77b4" fill-opacity="0.58"/>
<circle cx="502.8" cy="75.9" r="1.75" fill="#1f77b4" fill-opacity="0.58"/>
<circle cx="503.3" cy="77.8" r="1.75" fill="#1f77b4" fill-opacity="0.58"/>
<circle cx="507.1" cy="96.0" r="1.75" fill="#1f77b4" fill-opacity="0.58"/>
<circle cx="506.7" cy="81.3" r="1.75" fill="#1f77b4" fill-opacity="0.58"/>
<circle cx="496.9" cy="81.1" r="1.75" fill="#1f77b4" fill-opacity="0.58"/>
<circle cx="495.7" cy="82.4" r="1.75" fill="#1f77b4" fill-opacity="0.58"/>
<circle cx="506.9" cy="86.9" r="1.75" fill="#1f77b4" fill-opacity="0.58"/>
<circle cx="495.8" cy="79.7" r="1.75" fill="#1f77b4" fill-opacity="0.58"/>
<circle cx="499.6" cy="89.9" r="1.75" fill="#1f77b4" fill-opacity="0.58"/>
<circle cx="507.3" cy="87.2" r="1.75" fill="#1f77b4" fill-opacity="0.58"/>
<circle cx="507.6" cy="81.6" r="1.75" fill="#1f77b4" fill-opacity="0.58"/>
<circle cx="500.1" cy="77.2" r="1.75" fill="#1f77b4" fill-opacity="0.58"/>
<circle cx="508.5" cy="85.2" r="1.75" fill="#1f77b4" fill-opacity="0.58"/>
<circle cx="496.3" cy="85.4" r="1.75" fill="#1f77b4" fill-opacity="0.58"/>
<circle cx="504.7" cy="91.2" r="1.75" fill="#1f77b4" fill-opacity="0.58"/>
<circle cx="494.6" cy="75.3" r="1.75" fill="#1f77b4" fill-opacity="0.58"/>
<circle cx="500.0" cy="87.2" r="1.75" fill="#1f77b4" fill-opacity="0.58"/>
<circle cx="496.5" cy="76.0" r="1.75" fill="#1f77b4" fill-opacity="0.58"/>
<circle cx="501.5" cy="94.5" r="1.75" fill="#1f77b4" fill-opacity="0.58"/>
<circle cx="503.8" cy="93.2" r="1.75" fill="#1f77b4" fill-opacity="0.58"/>
<circle cx="498.7" cy="83.7" r="1.75" fill="#1f77b4" fill-opacity="0.58"/>
<circle cx="498.3" cy="86.0" r="1.75" fill="#1f77b4" fill-opacity="0.58"/>
<circle cx="492.2" cy="78.9" r="1.75" fill="#1f77b4" fill-opacity="0.58"/>
<circle cx="501.1" cy="86.5" r="1.75" fill="#1f77b4" fill-opacity="0.58"/>
<circle cx="491.7" cy="80.8" r="1.75" fill="#1f77b4" fill-opacity="0.58"/>
<circle cx="503.1" cy="90.2" r="1.75" fill="#1f77b4" fill-opacity="0.58"/>
<circle cx="502.1" cy="82.0" r="1.75" fill="#1f77b4" fill-opacity="0.58"/>
<circle cx="505.1" cy="82.2" r="1.75" fill="#1f77b4" fill-opacity="0.58"/>
<circle cx="506.1" cy="87.6" r="1.75" fill="#1f77b4" fill-opacity="0.58"/>
<circle cx="502.8" cy="92.3" r="1.75" fill="#1f77b4" fill-opacity="0.58"/>
<circle cx="494.5" cy="73.5" r="1.75" fill="#1f77b4" fill-opacity="0.58"/>
<circle cx="503.4" cy="80.9" r="1.75" fill="#1f77b4" fill-opacity="0.58"/>
<circle cx="506.7" cy="91.8" r="1.75" fill="#1f77b4" fill-opacity="0.58"/>
<circle cx="490.6" cy="79.8" r="1.75" fill="#1f77b4" fill-opacity="0.58"/>
<circle cx="497.8" cy="83.5" r="1.75" fill="#1f77b4" fill-opacity="0.58"/>
<circle cx="497.0" cy="80.8" r="1.75" fill="#1f77b4" fill-opacity="0.58"/>
<circle cx="507.1" cy="89.1" r="1.75" fill="#1f77b4" fill-opacity="0.58"/>
<circle cx="506.2" cy="87.2" r="1.75" fill="#1f77b4" fill-opacity="0.58"/>
<circle cx="499.5" cy="91.1" r="1.75" fill="#1f77b4" fill-opacity="0.58"/>
<circle cx="497.5" cy="87.4" r="1.75" fill="#1f77b4" fill-opacity="0.58"/>
<circle cx="494.1" cy="76.4" r="1.75" fill="#1f77b4" fill-opacity="0.58"/>
<circle cx="506.9" cy="88.0" r="1.75" fill="#1f77b4" fill-opacity="0.58"/>
<circle cx="551.0" cy="49.0" r="1.8" fill="#ff7f0e"/>
<circle cx="492.0" cy="73.4" r="1.8" fill="#ff7f0e"/>
<circle cx="504.4" cy="82.0" r="1.8" fill="#ff7f0e"/>
<circle cx="498.8" cy="96.0" r="1.8" fill="#ff7f0e"/>
<circle cx="496.6" cy="130.4" r="1.8" fill="#ff7f0e"/>
<circle cx="502.6" cy="140.0" r="1.8" fill="#ff7f0e"/>
<circle cx="530.0" cy="147.6" r="1.8" fill="#ff7f0e"/>
<circle cx="463.0" cy="149.6" r="1.8" fill="#ff7f0e"/>
<circle cx="500.6" cy="161.6" r="1.8" fill="#ff7f0e"/>
<circle cx="521.4" cy="163.6" r="1.8" fill="#ff7f0e"/>
<circle cx="595.0" cy="45.6" r="1.8" fill="#ff7f0e"/>
<circle cx="572.0" cy="136.6" r="1.8" fill="#ff7f0e"/>
<circle cx="553.0" cy="153.6" r="1.8" fill="#ff7f0e"/>
<path d="M558.20,78.30H561.80V81.00H564.50V84.60H561.80V87.30H558.20V84.60H555.50V81.00H558.20Z" fill="#ff0000"/>
<path d="M607.40,59.50H611.00V62.20H613.70V65.80H611.00V68.50H607.40V65.80H604.70V62.20H607.40Z" fill="#0000ff"/>
<path d="M539.40,122.30H543.00V125.00H545.70V128.60H543.00V131.30H539.40V128.60H536.70V125.00H539.40Z" fill="#008000"/>
<path d="M564.20,52.30H567.80V55.00H570.50V58.60H567.80V61.30H564.20V58.60H561.50V55.00H564.20Z" fill="#ffd700"/>
</g>
<path d="M412.5,219.5V4.0H699.3V219.5H412.5" fill="none" stroke="#111" stroke-width="0.9"/>
<line x1="428.81" y1="219.50" x2="428.81" y2="221.40" stroke="#333" stroke-width="0.6"/>
<line x1="439.47" y1="219.50" x2="439.47" y2="221.40" stroke="#333" stroke-width="0.6"/>
<line x1="447.02" y1="219.50" x2="447.02" y2="221.40" stroke="#333" stroke-width="0.6"/>
<line x1="452.89" y1="219.50" x2="452.89" y2="221.40" stroke="#333" stroke-width="0.6"/>
<line x1="457.68" y1="219.50" x2="457.68" y2="221.40" stroke="#333" stroke-width="0.6"/>
<line x1="461.73" y1="219.50" x2="461.73" y2="221.40" stroke="#333" stroke-width="0.6"/>
<line x1="465.24" y1="219.50" x2="465.24" y2="221.40" stroke="#333" stroke-width="0.6"/>
<line x1="468.33" y1="219.50" x2="468.33" y2="221.40" stroke="#333" stroke-width="0.6"/>
<line x1="471.10" y1="219.50" x2="471.10" y2="222.90" stroke="#000" stroke-width="0.8"/>
<text transform="translate(471.10,233.20) scale(1.09,1)" text-anchor="middle" font-size="10.7">10<tspan dx="0.9" dy="-4.0" font-size="8.3">0</tspan></text>
<line x1="489.31" y1="219.50" x2="489.31" y2="221.40" stroke="#333" stroke-width="0.6"/>
<line x1="499.97" y1="219.50" x2="499.97" y2="221.40" stroke="#333" stroke-width="0.6"/>
<line x1="507.52" y1="219.50" x2="507.52" y2="221.40" stroke="#333" stroke-width="0.6"/>
<line x1="513.39" y1="219.50" x2="513.39" y2="221.40" stroke="#333" stroke-width="0.6"/>
<line x1="518.18" y1="219.50" x2="518.18" y2="221.40" stroke="#333" stroke-width="0.6"/>
<line x1="522.23" y1="219.50" x2="522.23" y2="221.40" stroke="#333" stroke-width="0.6"/>
<line x1="525.74" y1="219.50" x2="525.74" y2="221.40" stroke="#333" stroke-width="0.6"/>
<line x1="528.83" y1="219.50" x2="528.83" y2="221.40" stroke="#333" stroke-width="0.6"/>
<line x1="531.60" y1="219.50" x2="531.60" y2="222.90" stroke="#000" stroke-width="0.8"/>
<text transform="translate(531.60,233.20) scale(1.09,1)" text-anchor="middle" font-size="10.7">10<tspan dx="0.9" dy="-4.0" font-size="8.3">1</tspan></text>
<line x1="549.81" y1="219.50" x2="549.81" y2="221.40" stroke="#333" stroke-width="0.6"/>
<line x1="560.47" y1="219.50" x2="560.47" y2="221.40" stroke="#333" stroke-width="0.6"/>
<line x1="568.02" y1="219.50" x2="568.02" y2="221.40" stroke="#333" stroke-width="0.6"/>
<line x1="573.89" y1="219.50" x2="573.89" y2="221.40" stroke="#333" stroke-width="0.6"/>
<line x1="578.68" y1="219.50" x2="578.68" y2="221.40" stroke="#333" stroke-width="0.6"/>
<line x1="582.73" y1="219.50" x2="582.73" y2="221.40" stroke="#333" stroke-width="0.6"/>
<line x1="586.24" y1="219.50" x2="586.24" y2="221.40" stroke="#333" stroke-width="0.6"/>
<line x1="589.33" y1="219.50" x2="589.33" y2="221.40" stroke="#333" stroke-width="0.6"/>
<line x1="592.10" y1="219.50" x2="592.10" y2="222.90" stroke="#000" stroke-width="0.8"/>
<text transform="translate(592.10,233.20) scale(1.09,1)" text-anchor="middle" font-size="10.7">10<tspan dx="0.9" dy="-4.0" font-size="8.3">2</tspan></text>
<line x1="610.31" y1="219.50" x2="610.31" y2="221.40" stroke="#333" stroke-width="0.6"/>
<line x1="620.97" y1="219.50" x2="620.97" y2="221.40" stroke="#333" stroke-width="0.6"/>
<line x1="628.52" y1="219.50" x2="628.52" y2="221.40" stroke="#333" stroke-width="0.6"/>
<line x1="634.39" y1="219.50" x2="634.39" y2="221.40" stroke="#333" stroke-width="0.6"/>
<line x1="639.18" y1="219.50" x2="639.18" y2="221.40" stroke="#333" stroke-width="0.6"/>
<line x1="643.23" y1="219.50" x2="643.23" y2="221.40" stroke="#333" stroke-width="0.6"/>
<line x1="646.74" y1="219.50" x2="646.74" y2="221.40" stroke="#333" stroke-width="0.6"/>
<line x1="649.83" y1="219.50" x2="649.83" y2="221.40" stroke="#333" stroke-width="0.6"/>
<line x1="652.60" y1="219.50" x2="652.60" y2="222.90" stroke="#000" stroke-width="0.8"/>
<text transform="translate(652.60,233.20) scale(1.09,1)" text-anchor="middle" font-size="10.7">10<tspan dx="0.9" dy="-4.0" font-size="8.3">3</tspan></text>
<line x1="670.81" y1="219.50" x2="670.81" y2="221.40" stroke="#333" stroke-width="0.6"/>
<line x1="681.47" y1="219.50" x2="681.47" y2="221.40" stroke="#333" stroke-width="0.6"/>
<line x1="689.02" y1="219.50" x2="689.02" y2="221.40" stroke="#333" stroke-width="0.6"/>
<line x1="694.89" y1="219.50" x2="694.89" y2="221.40" stroke="#333" stroke-width="0.6"/>
<line x1="410.60" y1="218.95" x2="412.50" y2="218.95" stroke="#333" stroke-width="0.6"/>
<line x1="409.10" y1="216.80" x2="412.50" y2="216.80" stroke="#000" stroke-width="0.8"/>
<text transform="translate(406.50,220.90) scale(1.09,1)" text-anchor="end" font-size="10.7">10<tspan dx="0.9" dy="-4.0" font-size="8.3">−3</tspan></text>
<line x1="410.60" y1="202.65" x2="412.50" y2="202.65" stroke="#333" stroke-width="0.6"/>
<line x1="410.60" y1="194.38" x2="412.50" y2="194.38" stroke="#333" stroke-width="0.6"/>
<line x1="410.60" y1="188.50" x2="412.50" y2="188.50" stroke="#333" stroke-width="0.6"/>
<line x1="410.60" y1="183.95" x2="412.50" y2="183.95" stroke="#333" stroke-width="0.6"/>
<line x1="410.60" y1="180.23" x2="412.50" y2="180.23" stroke="#333" stroke-width="0.6"/>
<line x1="410.60" y1="177.08" x2="412.50" y2="177.08" stroke="#333" stroke-width="0.6"/>
<line x1="410.60" y1="174.35" x2="412.50" y2="174.35" stroke="#333" stroke-width="0.6"/>
<line x1="410.60" y1="171.95" x2="412.50" y2="171.95" stroke="#333" stroke-width="0.6"/>
<line x1="409.10" y1="169.80" x2="412.50" y2="169.80" stroke="#000" stroke-width="0.8"/>
<text transform="translate(406.50,173.90) scale(1.09,1)" text-anchor="end" font-size="10.7">10<tspan dx="0.9" dy="-4.0" font-size="8.3">−2</tspan></text>
<line x1="410.60" y1="155.65" x2="412.50" y2="155.65" stroke="#333" stroke-width="0.6"/>
<line x1="410.60" y1="147.38" x2="412.50" y2="147.38" stroke="#333" stroke-width="0.6"/>
<line x1="410.60" y1="141.50" x2="412.50" y2="141.50" stroke="#333" stroke-width="0.6"/>
<line x1="410.60" y1="136.95" x2="412.50" y2="136.95" stroke="#333" stroke-width="0.6"/>
<line x1="410.60" y1="133.23" x2="412.50" y2="133.23" stroke="#333" stroke-width="0.6"/>
<line x1="410.60" y1="130.08" x2="412.50" y2="130.08" stroke="#333" stroke-width="0.6"/>
<line x1="410.60" y1="127.35" x2="412.50" y2="127.35" stroke="#333" stroke-width="0.6"/>
<line x1="410.60" y1="124.95" x2="412.50" y2="124.95" stroke="#333" stroke-width="0.6"/>
<line x1="409.10" y1="122.80" x2="412.50" y2="122.80" stroke="#000" stroke-width="0.8"/>
<text transform="translate(406.50,126.90) scale(1.09,1)" text-anchor="end" font-size="10.7">10<tspan dx="0.9" dy="-4.0" font-size="8.3">−1</tspan></text>
<line x1="410.60" y1="108.65" x2="412.50" y2="108.65" stroke="#333" stroke-width="0.6"/>
<line x1="410.60" y1="100.38" x2="412.50" y2="100.38" stroke="#333" stroke-width="0.6"/>
<line x1="410.60" y1="94.50" x2="412.50" y2="94.50" stroke="#333" stroke-width="0.6"/>
<line x1="410.60" y1="89.95" x2="412.50" y2="89.95" stroke="#333" stroke-width="0.6"/>
<line x1="410.60" y1="86.23" x2="412.50" y2="86.23" stroke="#333" stroke-width="0.6"/>
<line x1="410.60" y1="83.08" x2="412.50" y2="83.08" stroke="#333" stroke-width="0.6"/>
<line x1="410.60" y1="80.35" x2="412.50" y2="80.35" stroke="#333" stroke-width="0.6"/>
<line x1="410.60" y1="77.95" x2="412.50" y2="77.95" stroke="#333" stroke-width="0.6"/>
<line x1="409.10" y1="75.80" x2="412.50" y2="75.80" stroke="#000" stroke-width="0.8"/>
<text transform="translate(406.50,79.90) scale(1.09,1)" text-anchor="end" font-size="10.7">10<tspan dx="0.9" dy="-4.0" font-size="8.3">0</tspan></text>
<line x1="410.60" y1="61.65" x2="412.50" y2="61.65" stroke="#333" stroke-width="0.6"/>
<line x1="410.60" y1="53.38" x2="412.50" y2="53.38" stroke="#333" stroke-width="0.6"/>
<line x1="410.60" y1="47.50" x2="412.50" y2="47.50" stroke="#333" stroke-width="0.6"/>
<line x1="410.60" y1="42.95" x2="412.50" y2="42.95" stroke="#333" stroke-width="0.6"/>
<line x1="410.60" y1="39.23" x2="412.50" y2="39.23" stroke="#333" stroke-width="0.6"/>
<line x1="410.60" y1="36.08" x2="412.50" y2="36.08" stroke="#333" stroke-width="0.6"/>
<line x1="410.60" y1="33.35" x2="412.50" y2="33.35" stroke="#333" stroke-width="0.6"/>
<line x1="410.60" y1="30.95" x2="412.50" y2="30.95" stroke="#333" stroke-width="0.6"/>
<line x1="409.10" y1="28.80" x2="412.50" y2="28.80" stroke="#000" stroke-width="0.8"/>
<text transform="translate(406.50,32.90) scale(1.09,1)" text-anchor="end" font-size="10.7">10<tspan dx="0.9" dy="-4.0" font-size="8.3">1</tspan></text>
<line x1="410.60" y1="14.65" x2="412.50" y2="14.65" stroke="#333" stroke-width="0.6"/>
<line x1="410.60" y1="6.38" x2="412.50" y2="6.38" stroke="#333" stroke-width="0.6"/>
<text x="555.50" y="246.80" text-anchor="middle" font-size="11.3" letter-spacing="0.25">Planet Period (days)</text>
<text transform="translate(376.5,111.5) rotate(-90)" text-anchor="middle" font-size="11.3">Planet Mass (<tspan font-style="italic">M</tspan><tspan font-style="italic" font-size="7.5" dy="2.5">J</tspan><tspan dy="-2.5">)</tspan></text>
<rect x="581" y="129.8" width="114.5" height="84.6" rx="2" fill="#fff" fill-opacity="0.8" stroke="#d6d6d6" stroke-width="1"/>
<circle cx="594.6" cy="138.20000000000002" r="1.7" fill="#1f77b4" fill-opacity="0.5"/>
<text x="611.80" y="141.30" text-anchor="start" font-size="10.2" >Transit Discovery</text>
<circle cx="594.6" cy="151.76000000000002" r="1.6" fill="#ff7f0e"/>
<text x="611.80" y="154.86" text-anchor="start" font-size="10.2" >RV Discovery</text>
<path d="M592.80,160.82H596.40V163.52H599.10V167.12H596.40V169.82H592.80V167.12H590.10V163.52H592.80Z" fill="#ff0000"/>
<text x="611.80" y="168.42" text-anchor="start" font-size="10.2" >HD9446b</text>
<path d="M592.80,174.38H596.40V177.08H599.10V180.68H596.40V183.38H592.80V180.68H590.10V177.08H592.80Z" fill="#0000ff"/>
<text x="611.80" y="181.98" text-anchor="start" font-size="10.2" >HD9446c</text>
<path d="M592.80,187.94H596.40V190.64H599.10V194.24H596.40V196.94H592.80V194.24H590.10V190.64H592.80Z" fill="#008000"/>
<text x="611.80" y="195.54" text-anchor="start" font-size="10.2" >HD179079b</text>
<path d="M592.80,201.50H596.40V204.20H599.10V207.80H596.40V210.50H592.80V207.80H590.10V204.20H592.80Z" fill="#ffd700"/>
<text x="611.80" y="209.10" text-anchor="start" font-size="10.2" >HD43691b</text>
</svg></body></html>
